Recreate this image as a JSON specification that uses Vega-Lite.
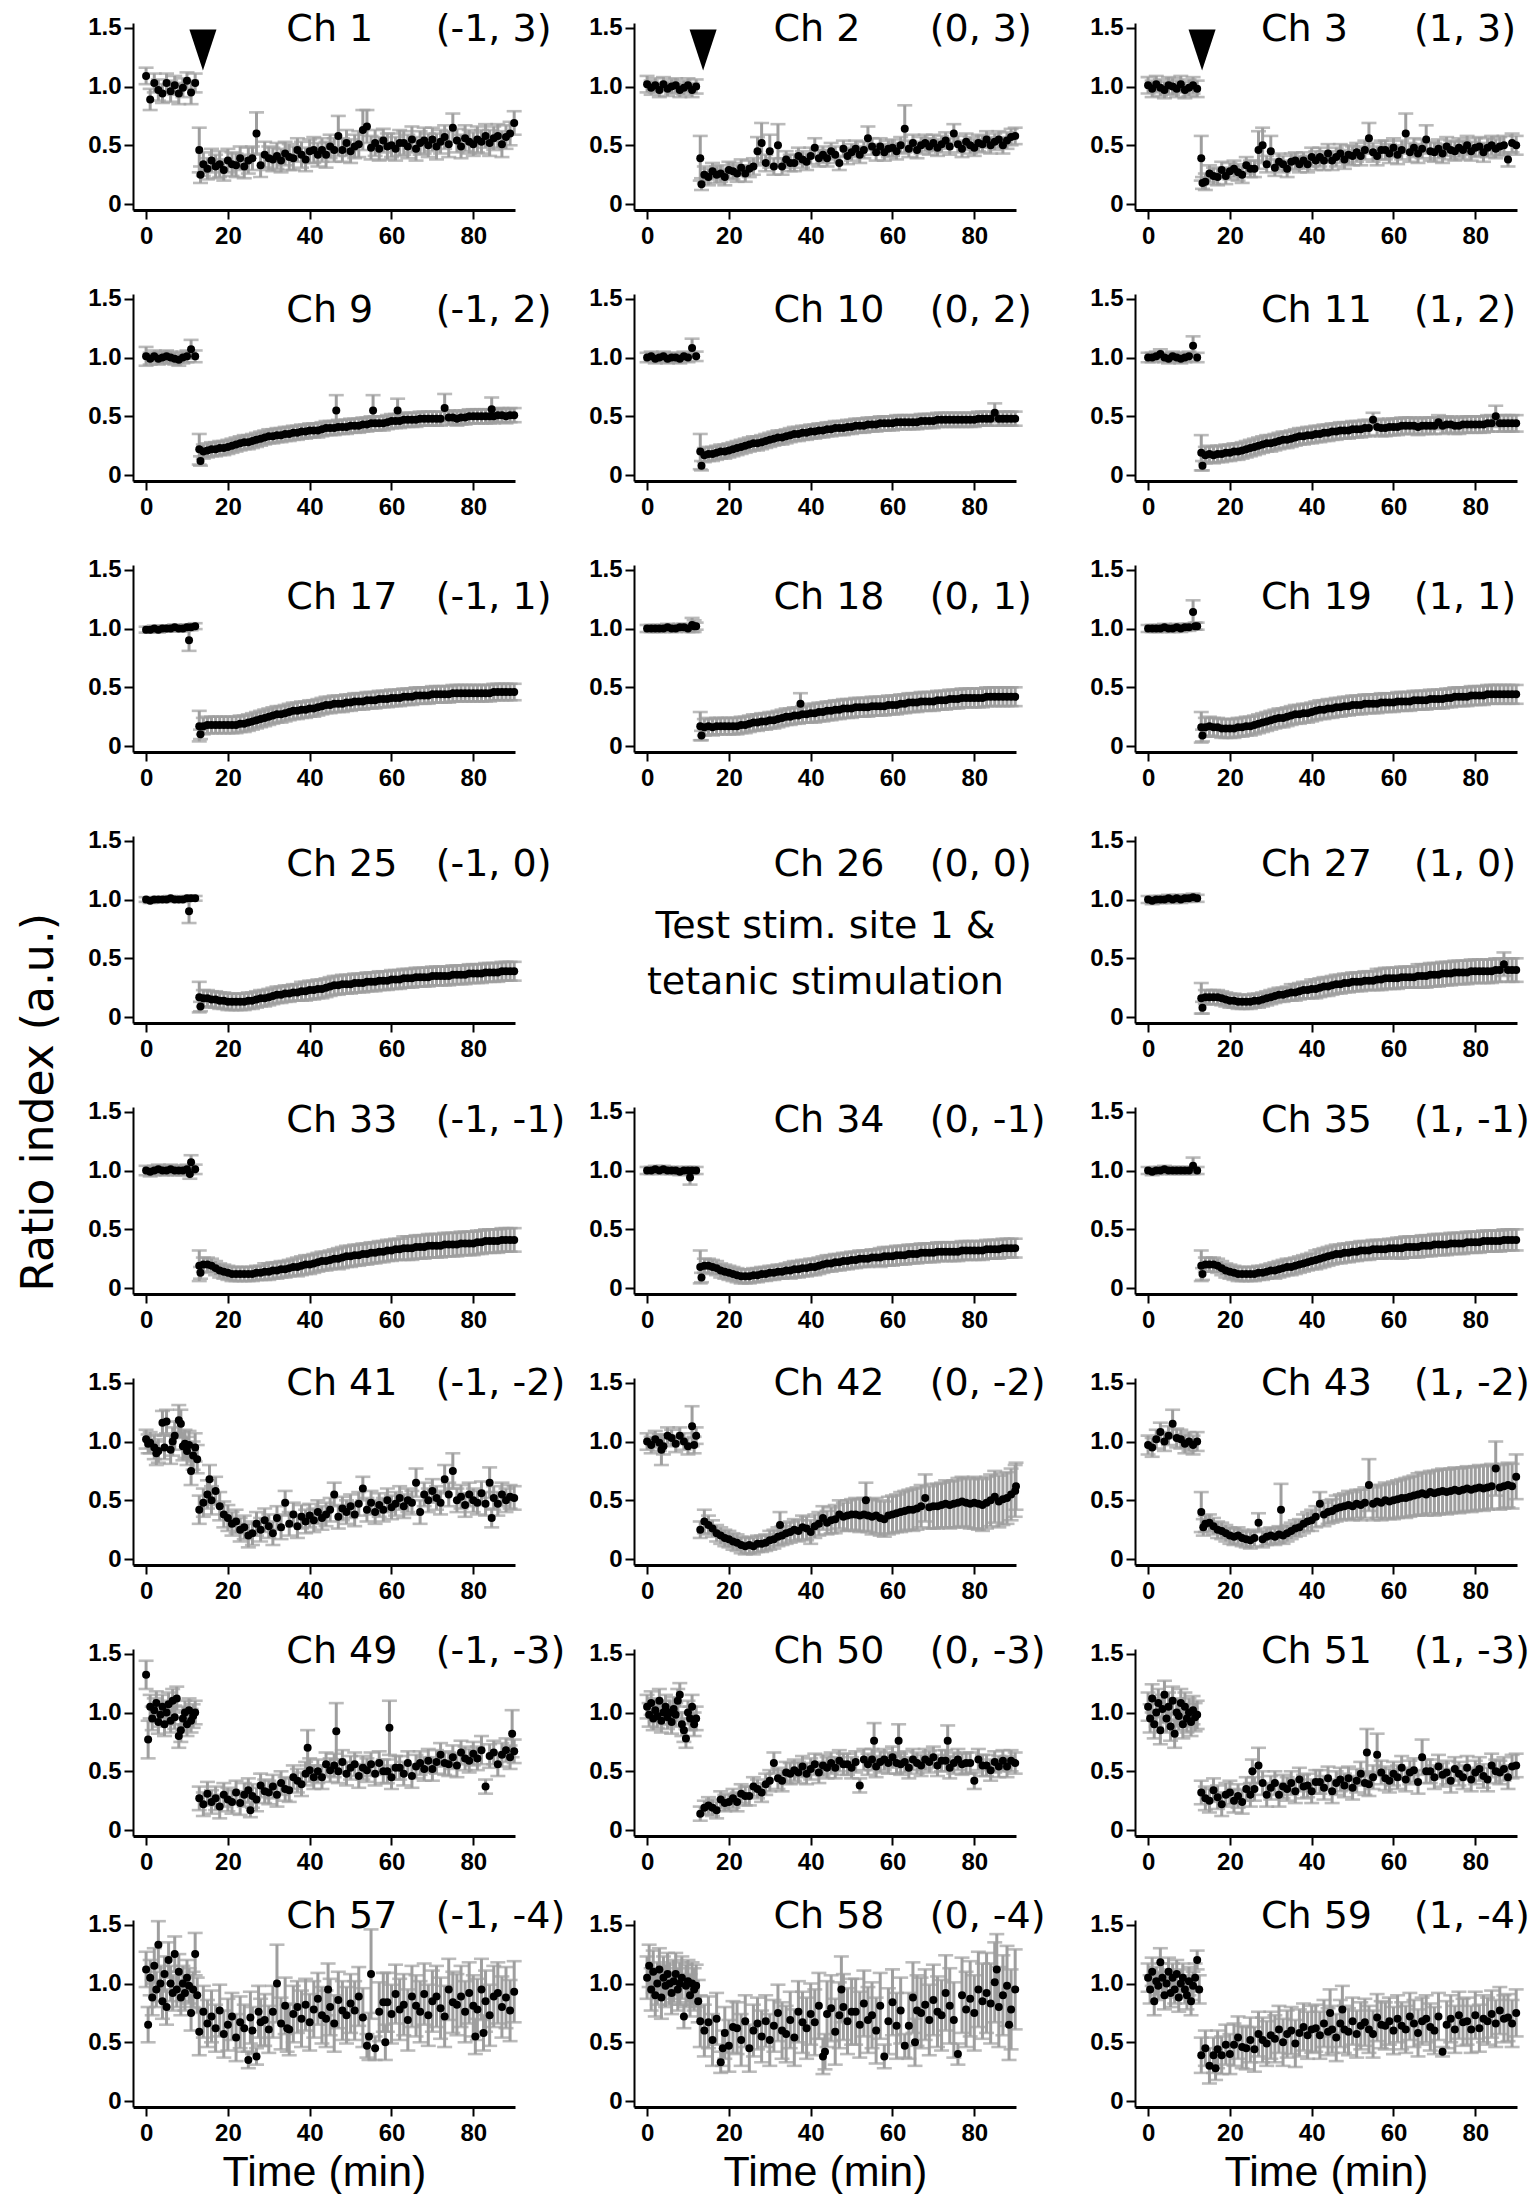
{
  "$schema": "https://vega.github.io/schema/vega-lite/v6.json",
  "padding": {"left": 17, "top": 10, "right": 0, "bottom": 0},
  "title": {"text": "Ratio index (a.u.)", "orient": "left", "anchor": "middle", "font": "DejaVu Sans", "fontSize": 44, "fontWeight": "normal", "color": "#000", "offset": 26},
  "columns": 3,
  "spacing": {"row": 84, "column": 119},
  "bounds": "flush",
  "datasets": {
    "c1": [{"t":0,"v":1.09,"e":0.07},{"t":1,"v":0.89,"e":0.09},{"t":2,"v":1.03,"e":0.08},{"t":3,"v":0.97,"e":0.09},{"t":4,"v":0.94,"e":0.08},{"t":5,"v":1.03,"e":0.08},{"t":6,"v":0.96,"e":0.09},{"t":7,"v":1.01,"e":0.08},{"t":8,"v":0.94,"e":0.09},{"t":9,"v":0.99,"e":0.08},{"t":10,"v":1.05,"e":0.07},{"t":11,"v":0.95,"e":0.1},{"t":12,"v":1.03,"e":0.08},
      {"t":13,"v":0.46,"e":0.19},{"t":13.3,"v":0.25,"e":0.07},{"t":14,"v":0.34,"e":0.1},{"t":15,"v":0.3,"e":0.09},{"t":16,"v":0.37,"e":0.1},{"t":17,"v":0.32,"e":0.1},{"t":18,"v":0.34,"e":0.11},{"t":19,"v":0.29,"e":0.09},{"t":20,"v":0.37,"e":0.1},{"t":21,"v":0.34,"e":0.1},{"t":22,"v":0.33,"e":0.1},{"t":23,"v":0.39,"e":0.1},{"t":24,"v":0.32,"e":0.1},{"t":25,"v":0.37,"e":0.11},{"t":26,"v":0.39,"e":0.1},{"t":27,"v":0.6,"e":0.18},{"t":28,"v":0.33,"e":0.1},{"t":29,"v":0.42,"e":0.11},{"t":30,"v":0.39,"e":0.1},{"t":31,"v":0.38,"e":0.1},{"t":32,"v":0.41,"e":0.11},{"t":33,"v":0.37,"e":0.1},{"t":34,"v":0.43,"e":0.1},{"t":35,"v":0.4,"e":0.11},{"t":36,"v":0.39,"e":0.1},{"t":37,"v":0.46,"e":0.1},{"t":38,"v":0.42,"e":0.11},{"t":39,"v":0.38,"e":0.1},{"t":40,"v":0.45,"e":0.1},{"t":41,"v":0.46,"e":0.11},{"t":42,"v":0.42,"e":0.1},{"t":43,"v":0.46,"e":0.1},{"t":44,"v":0.42,"e":0.11},{"t":45,"v":0.49,"e":0.1},{"t":46,"v":0.46,"e":0.1},{"t":47,"v":0.58,"e":0.17},{"t":48,"v":0.46,"e":0.1},{"t":49,"v":0.52,"e":0.11},{"t":50,"v":0.45,"e":0.1},{"t":51,"v":0.49,"e":0.1},{"t":52,"v":0.51,"e":0.11},{"t":53,"v":0.63,"e":0.17},{"t":54,"v":0.66,"e":0.14},{"t":55,"v":0.48,"e":0.1},{"t":56,"v":0.52,"e":0.11},{"t":57,"v":0.47,"e":0.1},{"t":58,"v":0.54,"e":0.1},{"t":59,"v":0.49,"e":0.11},{"t":60,"v":0.5,"e":0.1},{"t":61,"v":0.47,"e":0.1},{"t":62,"v":0.52,"e":0.11},{"t":63,"v":0.52,"e":0.1},{"t":64,"v":0.49,"e":0.1},{"t":65,"v":0.55,"e":0.11},{"t":66,"v":0.47,"e":0.1},{"t":67,"v":0.52,"e":0.1},{"t":68,"v":0.54,"e":0.11},{"t":69,"v":0.5,"e":0.1},{"t":70,"v":0.55,"e":0.1},{"t":71,"v":0.49,"e":0.11},{"t":72,"v":0.53,"e":0.1},{"t":73,"v":0.57,"e":0.1},{"t":74,"v":0.51,"e":0.11},{"t":75,"v":0.65,"e":0.12},{"t":76,"v":0.54,"e":0.1},{"t":77,"v":0.49,"e":0.1},{"t":78,"v":0.56,"e":0.11},{"t":79,"v":0.53,"e":0.1},{"t":80,"v":0.51,"e":0.1},{"t":81,"v":0.55,"e":0.11},{"t":82,"v":0.53,"e":0.1},{"t":83,"v":0.58,"e":0.1},{"t":84,"v":0.52,"e":0.11},{"t":85,"v":0.56,"e":0.1},{"t":86,"v":0.58,"e":0.1},{"t":87,"v":0.51,"e":0.11},{"t":88,"v":0.57,"e":0.1},{"t":89,"v":0.6,"e":0.1},{"t":90,"v":0.69,"e":0.1}],
    "c2": [{"t":0,"v":1.02,"e":0.07},{"t":1,"v":0.99,"e":0.06},{"t":2,"v":1.01,"e":0.06},{"t":3,"v":0.97,"e":0.06},{"t":4,"v":1.02,"e":0.06},{"t":5,"v":0.98,"e":0.06},{"t":6,"v":1.0,"e":0.06},{"t":7,"v":1.01,"e":0.06},{"t":8,"v":0.97,"e":0.06},{"t":9,"v":0.99,"e":0.06},{"t":10,"v":1.01,"e":0.06},{"t":11,"v":0.97,"e":0.06},{"t":12,"v":1.0,"e":0.06},
      {"t":13,"v":0.39,"e":0.19},{"t":13.3,"v":0.17,"e":0.05},{"t":14,"v":0.25,"e":0.07},{"t":15,"v":0.23,"e":0.07},{"t":16,"v":0.28,"e":0.07},{"t":17,"v":0.25,"e":0.07},{"t":18,"v":0.26,"e":0.07},{"t":19,"v":0.23,"e":0.07},{"t":20,"v":0.29,"e":0.07},{"t":21,"v":0.28,"e":0.07},{"t":22,"v":0.26,"e":0.07},{"t":23,"v":0.31,"e":0.07},{"t":24,"v":0.26,"e":0.07},{"t":25,"v":0.3,"e":0.07},{"t":26,"v":0.32,"e":0.07},{"t":27,"v":0.45,"e":0.12},{"t":28,"v":0.52,"e":0.17},{"t":29,"v":0.35,"e":0.07},{"t":30,"v":0.45,"e":0.14},{"t":31,"v":0.32,"e":0.07},{"t":32,"v":0.5,"e":0.18},{"t":33,"v":0.32,"e":0.07},{"t":34,"v":0.38,"e":0.07},{"t":35,"v":0.35,"e":0.07},{"t":36,"v":0.35,"e":0.07},{"t":37,"v":0.41,"e":0.07},{"t":38,"v":0.38,"e":0.07},{"t":39,"v":0.36,"e":0.07},{"t":40,"v":0.41,"e":0.07},{"t":41,"v":0.48,"e":0.08},{"t":42,"v":0.39,"e":0.07},{"t":43,"v":0.42,"e":0.07},{"t":44,"v":0.39,"e":0.07},{"t":45,"v":0.45,"e":0.07},{"t":46,"v":0.42,"e":0.07},{"t":47,"v":0.35,"e":0.06},{"t":48,"v":0.47,"e":0.07},{"t":49,"v":0.41,"e":0.07},{"t":50,"v":0.44,"e":0.07},{"t":51,"v":0.47,"e":0.07},{"t":52,"v":0.42,"e":0.07},{"t":53,"v":0.46,"e":0.07},{"t":54,"v":0.56,"e":0.1},{"t":55,"v":0.49,"e":0.07},{"t":56,"v":0.44,"e":0.07},{"t":57,"v":0.49,"e":0.07},{"t":58,"v":0.44,"e":0.07},{"t":59,"v":0.47,"e":0.07},{"t":60,"v":0.48,"e":0.07},{"t":61,"v":0.45,"e":0.07},{"t":62,"v":0.5,"e":0.07},{"t":63,"v":0.64,"e":0.2},{"t":64,"v":0.47,"e":0.07},{"t":65,"v":0.52,"e":0.07},{"t":66,"v":0.46,"e":0.07},{"t":67,"v":0.5,"e":0.07},{"t":68,"v":0.52,"e":0.07},{"t":69,"v":0.49,"e":0.07},{"t":70,"v":0.52,"e":0.07},{"t":71,"v":0.48,"e":0.07},{"t":72,"v":0.51,"e":0.07},{"t":73,"v":0.54,"e":0.07},{"t":74,"v":0.49,"e":0.07},{"t":75,"v":0.6,"e":0.08},{"t":76,"v":0.51,"e":0.07},{"t":77,"v":0.47,"e":0.07},{"t":78,"v":0.53,"e":0.07},{"t":79,"v":0.5,"e":0.07},{"t":80,"v":0.48,"e":0.07},{"t":81,"v":0.52,"e":0.07},{"t":82,"v":0.51,"e":0.07},{"t":83,"v":0.55,"e":0.07},{"t":84,"v":0.5,"e":0.07},{"t":85,"v":0.53,"e":0.07},{"t":86,"v":0.55,"e":0.07},{"t":87,"v":0.5,"e":0.07},{"t":88,"v":0.54,"e":0.07},{"t":89,"v":0.57,"e":0.07},{"t":90,"v":0.58,"e":0.07}],
    "c3": [{"t":0,"v":1.01,"e":0.07},{"t":1,"v":0.98,"e":0.07},{"t":2,"v":1.02,"e":0.07},{"t":3,"v":0.99,"e":0.07},{"t":4,"v":0.97,"e":0.07},{"t":5,"v":1.01,"e":0.07},{"t":6,"v":1.0,"e":0.07},{"t":7,"v":0.98,"e":0.07},{"t":8,"v":1.02,"e":0.07},{"t":9,"v":0.97,"e":0.07},{"t":10,"v":0.99,"e":0.07},{"t":11,"v":1.01,"e":0.07},{"t":12,"v":0.98,"e":0.07},
      {"t":13,"v":0.39,"e":0.19},{"t":13.3,"v":0.18,"e":0.05},{"t":14,"v":0.19,"e":0.07},{"t":15,"v":0.26,"e":0.07},{"t":16,"v":0.24,"e":0.07},{"t":17,"v":0.23,"e":0.07},{"t":18,"v":0.29,"e":0.07},{"t":19,"v":0.24,"e":0.07},{"t":20,"v":0.28,"e":0.07},{"t":21,"v":0.3,"e":0.07},{"t":22,"v":0.27,"e":0.07},{"t":23,"v":0.25,"e":0.07},{"t":24,"v":0.33,"e":0.07},{"t":25,"v":0.3,"e":0.07},{"t":26,"v":0.3,"e":0.07},{"t":27,"v":0.46,"e":0.16},{"t":28,"v":0.5,"e":0.15},{"t":29,"v":0.34,"e":0.07},{"t":30,"v":0.45,"e":0.13},{"t":31,"v":0.31,"e":0.07},{"t":32,"v":0.36,"e":0.07},{"t":33,"v":0.34,"e":0.07},{"t":34,"v":0.3,"e":0.07},{"t":35,"v":0.36,"e":0.07},{"t":36,"v":0.37,"e":0.07},{"t":37,"v":0.34,"e":0.07},{"t":38,"v":0.37,"e":0.07},{"t":39,"v":0.34,"e":0.07},{"t":40,"v":0.4,"e":0.08},{"t":41,"v":0.37,"e":0.08},{"t":42,"v":0.4,"e":0.08},{"t":43,"v":0.37,"e":0.08},{"t":44,"v":0.43,"e":0.08},{"t":45,"v":0.37,"e":0.08},{"t":46,"v":0.4,"e":0.08},{"t":47,"v":0.43,"e":0.08},{"t":48,"v":0.38,"e":0.08},{"t":49,"v":0.42,"e":0.08},{"t":50,"v":0.41,"e":0.08},{"t":51,"v":0.44,"e":0.08},{"t":52,"v":0.41,"e":0.08},{"t":53,"v":0.46,"e":0.08},{"t":54,"v":0.56,"e":0.13},{"t":55,"v":0.44,"e":0.08},{"t":56,"v":0.41,"e":0.08},{"t":57,"v":0.46,"e":0.08},{"t":58,"v":0.46,"e":0.08},{"t":59,"v":0.43,"e":0.08},{"t":60,"v":0.48,"e":0.08},{"t":61,"v":0.42,"e":0.08},{"t":62,"v":0.46,"e":0.08},{"t":63,"v":0.6,"e":0.17},{"t":64,"v":0.44,"e":0.08},{"t":65,"v":0.48,"e":0.08},{"t":66,"v":0.43,"e":0.08},{"t":67,"v":0.47,"e":0.08},{"t":68,"v":0.55,"e":0.12},{"t":69,"v":0.45,"e":0.08},{"t":70,"v":0.44,"e":0.08},{"t":71,"v":0.47,"e":0.08},{"t":72,"v":0.43,"e":0.08},{"t":73,"v":0.49,"e":0.08},{"t":74,"v":0.46,"e":0.08},{"t":75,"v":0.45,"e":0.08},{"t":76,"v":0.48,"e":0.08},{"t":77,"v":0.46,"e":0.08},{"t":78,"v":0.5,"e":0.08},{"t":79,"v":0.45,"e":0.08},{"t":80,"v":0.48,"e":0.08},{"t":81,"v":0.49,"e":0.08},{"t":82,"v":0.44,"e":0.08},{"t":83,"v":0.48,"e":0.08},{"t":84,"v":0.5,"e":0.08},{"t":85,"v":0.47,"e":0.08},{"t":86,"v":0.49,"e":0.08},{"t":87,"v":0.5,"e":0.08},{"t":88,"v":0.38,"e":0.06},{"t":89,"v":0.52,"e":0.08},{"t":90,"v":0.5,"e":0.08}],
    "c9": [{"t":0,"v":1.01,"e":0.08},{"t":1,"v":0.99,"e":0.05},{"t":2,"v":1.01,"e":0.05},{"t":3,"v":0.99,"e":0.05},{"t":4,"v":1.0,"e":0.05},{"t":5,"v":1.01,"e":0.05},{"t":6,"v":1.0,"e":0.05},{"t":7,"v":0.99,"e":0.05},{"t":8,"v":0.98,"e":0.05},{"t":9,"v":1.0,"e":0.05},{"t":10,"v":1.01,"e":0.05},{"t":11,"v":1.07,"e":0.08},{"t":12,"v":1.01,"e":0.05},
      {"t":13,"v":0.22,"e":0.13},{"t":13.3,"v":0.12,"e":0.04},{"t":14,"v":0.2,"e":0.06},{"t":15,"v":0.21,"e":0.06},{"t":16,"v":0.22,"e":0.06},{"t":17,"v":0.22,"e":0.06},{"t":18,"v":0.23,"e":0.06},{"t":19,"v":0.23,"e":0.06},{"t":20,"v":0.24,"e":0.06},{"t":21,"v":0.25,"e":0.06},{"t":22,"v":0.26,"e":0.06},{"t":23,"v":0.27,"e":0.06},{"t":24,"v":0.28,"e":0.06},{"t":25,"v":0.28,"e":0.06},{"t":26,"v":0.29,"e":0.06},{"t":27,"v":0.3,"e":0.06},{"t":28,"v":0.31,"e":0.06},{"t":29,"v":0.32,"e":0.06},{"t":30,"v":0.33,"e":0.06},{"t":31,"v":0.33,"e":0.06},{"t":32,"v":0.34,"e":0.06},{"t":33,"v":0.34,"e":0.06},{"t":34,"v":0.35,"e":0.06},{"t":35,"v":0.35,"e":0.06},{"t":36,"v":0.36,"e":0.06},{"t":37,"v":0.36,"e":0.06},{"t":38,"v":0.37,"e":0.06},{"t":39,"v":0.37,"e":0.06},{"t":40,"v":0.38,"e":0.06},{"t":41,"v":0.38,"e":0.06},{"t":42,"v":0.38,"e":0.06},{"t":43,"v":0.39,"e":0.06},{"t":44,"v":0.4,"e":0.06},{"t":45,"v":0.4,"e":0.06},{"t":46,"v":0.4,"e":0.06},{"t":46.5,"v":0.55,"e":0.13},{"t":47,"v":0.41,"e":0.06},{"t":48,"v":0.41,"e":0.06},{"t":49,"v":0.41,"e":0.06},{"t":50,"v":0.42,"e":0.06},{"t":51,"v":0.42,"e":0.06},{"t":52,"v":0.42,"e":0.06},{"t":53,"v":0.43,"e":0.06},{"t":54,"v":0.43,"e":0.06},{"t":55,"v":0.44,"e":0.06},{"t":55.5,"v":0.55,"e":0.13},{"t":56,"v":0.44,"e":0.06},{"t":57,"v":0.44,"e":0.06},{"t":58,"v":0.44,"e":0.06},{"t":59,"v":0.45,"e":0.06},{"t":60,"v":0.46,"e":0.06},{"t":61,"v":0.46,"e":0.06},{"t":61.5,"v":0.55,"e":0.1},{"t":62,"v":0.46,"e":0.06},{"t":63,"v":0.47,"e":0.06},{"t":64,"v":0.47,"e":0.06},{"t":65,"v":0.47,"e":0.06},{"t":66,"v":0.47,"e":0.06},{"t":67,"v":0.48,"e":0.06},{"t":68,"v":0.48,"e":0.06},{"t":69,"v":0.48,"e":0.06},{"t":70,"v":0.48,"e":0.06},{"t":71,"v":0.48,"e":0.06},{"t":72,"v":0.48,"e":0.06},{"t":73,"v":0.57,"e":0.12},{"t":74,"v":0.49,"e":0.06},{"t":75,"v":0.49,"e":0.06},{"t":76,"v":0.48,"e":0.06},{"t":77,"v":0.49,"e":0.06},{"t":78,"v":0.49,"e":0.06},{"t":79,"v":0.5,"e":0.06},{"t":80,"v":0.5,"e":0.06},{"t":81,"v":0.5,"e":0.06},{"t":82,"v":0.5,"e":0.06},{"t":83,"v":0.5,"e":0.06},{"t":84,"v":0.5,"e":0.06},{"t":84.5,"v":0.56,"e":0.1},{"t":85,"v":0.5,"e":0.06},{"t":86,"v":0.51,"e":0.06},{"t":87,"v":0.51,"e":0.06},{"t":88,"v":0.5,"e":0.06},{"t":89,"v":0.51,"e":0.06},{"t":90,"v":0.51,"e":0.06}],
    "c10": [{"t":0,"v":1.0,"e":0.04},{"t":1,"v":1.01,"e":0.04},{"t":2,"v":0.99,"e":0.04},{"t":3,"v":1.0,"e":0.04},{"t":4,"v":1.01,"e":0.04},{"t":5,"v":0.99,"e":0.04},{"t":6,"v":1.0,"e":0.04},{"t":7,"v":1.0,"e":0.04},{"t":8,"v":0.99,"e":0.04},{"t":9,"v":1.01,"e":0.04},{"t":10,"v":1.0,"e":0.04},{"t":11,"v":1.08,"e":0.08},{"t":12,"v":1.01,"e":0.04},
      {"t":13,"v":0.2,"e":0.15},{"t":13.3,"v":0.08,"e":0.04},{"t":14,"v":0.17,"e":0.06},{"t":15,"v":0.18,"e":0.06},{"t":16,"v":0.18,"e":0.06},{"t":17,"v":0.19,"e":0.06},{"t":18,"v":0.2,"e":0.06},{"t":19,"v":0.2,"e":0.06},{"t":20,"v":0.21,"e":0.06},{"t":21,"v":0.22,"e":0.06},{"t":22,"v":0.23,"e":0.06},{"t":23,"v":0.24,"e":0.06},{"t":24,"v":0.25,"e":0.06},{"t":25,"v":0.26,"e":0.06},{"t":26,"v":0.27,"e":0.06},{"t":27,"v":0.27,"e":0.06},{"t":28,"v":0.28,"e":0.06},{"t":29,"v":0.29,"e":0.06},{"t":30,"v":0.3,"e":0.06},{"t":31,"v":0.31,"e":0.06},{"t":32,"v":0.32,"e":0.06},{"t":33,"v":0.32,"e":0.06},{"t":34,"v":0.33,"e":0.06},{"t":35,"v":0.34,"e":0.06},{"t":36,"v":0.35,"e":0.06},{"t":37,"v":0.35,"e":0.06},{"t":38,"v":0.36,"e":0.06},{"t":39,"v":0.36,"e":0.06},{"t":40,"v":0.37,"e":0.06},{"t":41,"v":0.37,"e":0.06},{"t":42,"v":0.38,"e":0.06},{"t":43,"v":0.38,"e":0.06},{"t":44,"v":0.39,"e":0.06},{"t":45,"v":0.39,"e":0.06},{"t":46,"v":0.4,"e":0.06},{"t":47,"v":0.4,"e":0.06},{"t":48,"v":0.4,"e":0.06},{"t":49,"v":0.41,"e":0.06},{"t":50,"v":0.41,"e":0.06},{"t":51,"v":0.42,"e":0.06},{"t":52,"v":0.42,"e":0.06},{"t":53,"v":0.42,"e":0.06},{"t":54,"v":0.43,"e":0.06},{"t":55,"v":0.43,"e":0.06},{"t":56,"v":0.43,"e":0.06},{"t":57,"v":0.44,"e":0.06},{"t":58,"v":0.44,"e":0.06},{"t":59,"v":0.44,"e":0.06},{"t":60,"v":0.44,"e":0.06},{"t":61,"v":0.45,"e":0.06},{"t":62,"v":0.45,"e":0.06},{"t":63,"v":0.45,"e":0.06},{"t":64,"v":0.45,"e":0.06},{"t":65,"v":0.45,"e":0.06},{"t":66,"v":0.45,"e":0.06},{"t":67,"v":0.46,"e":0.06},{"t":68,"v":0.46,"e":0.06},{"t":69,"v":0.46,"e":0.06},{"t":70,"v":0.46,"e":0.06},{"t":71,"v":0.47,"e":0.06},{"t":72,"v":0.47,"e":0.06},{"t":73,"v":0.47,"e":0.06},{"t":74,"v":0.47,"e":0.06},{"t":75,"v":0.47,"e":0.06},{"t":76,"v":0.47,"e":0.06},{"t":77,"v":0.47,"e":0.06},{"t":78,"v":0.47,"e":0.06},{"t":79,"v":0.47,"e":0.06},{"t":80,"v":0.47,"e":0.06},{"t":81,"v":0.48,"e":0.06},{"t":82,"v":0.48,"e":0.06},{"t":83,"v":0.48,"e":0.06},{"t":84,"v":0.48,"e":0.06},{"t":85,"v":0.53,"e":0.08},{"t":86,"v":0.48,"e":0.06},{"t":87,"v":0.48,"e":0.06},{"t":88,"v":0.48,"e":0.06},{"t":89,"v":0.48,"e":0.06},{"t":90,"v":0.48,"e":0.06}],
    "c11": [{"t":0,"v":1.0,"e":0.04},{"t":1,"v":1.0,"e":0.04},{"t":2,"v":1.01,"e":0.04},{"t":3,"v":1.03,"e":0.04},{"t":4,"v":1.0,"e":0.04},{"t":5,"v":0.99,"e":0.04},{"t":6,"v":1.01,"e":0.04},{"t":7,"v":1.0,"e":0.04},{"t":8,"v":0.99,"e":0.04},{"t":9,"v":1.0,"e":0.04},{"t":10,"v":1.01,"e":0.04},{"t":11,"v":1.1,"e":0.08},{"t":12,"v":1.0,"e":0.04},
      {"t":13,"v":0.19,"e":0.15},{"t":13.3,"v":0.08,"e":0.04},{"t":14,"v":0.17,"e":0.07},{"t":15,"v":0.18,"e":0.07},{"t":16,"v":0.17,"e":0.07},{"t":17,"v":0.18,"e":0.07},{"t":18,"v":0.18,"e":0.07},{"t":19,"v":0.19,"e":0.07},{"t":20,"v":0.19,"e":0.07},{"t":21,"v":0.2,"e":0.07},{"t":22,"v":0.2,"e":0.07},{"t":23,"v":0.21,"e":0.07},{"t":24,"v":0.22,"e":0.07},{"t":25,"v":0.23,"e":0.07},{"t":26,"v":0.24,"e":0.07},{"t":27,"v":0.25,"e":0.07},{"t":28,"v":0.26,"e":0.07},{"t":29,"v":0.27,"e":0.07},{"t":30,"v":0.27,"e":0.07},{"t":31,"v":0.28,"e":0.07},{"t":32,"v":0.29,"e":0.07},{"t":33,"v":0.3,"e":0.07},{"t":34,"v":0.3,"e":0.07},{"t":35,"v":0.31,"e":0.07},{"t":36,"v":0.32,"e":0.07},{"t":37,"v":0.33,"e":0.07},{"t":38,"v":0.33,"e":0.07},{"t":39,"v":0.34,"e":0.07},{"t":40,"v":0.34,"e":0.07},{"t":41,"v":0.35,"e":0.07},{"t":42,"v":0.35,"e":0.07},{"t":43,"v":0.36,"e":0.07},{"t":44,"v":0.36,"e":0.07},{"t":45,"v":0.37,"e":0.07},{"t":46,"v":0.37,"e":0.07},{"t":47,"v":0.38,"e":0.07},{"t":48,"v":0.38,"e":0.07},{"t":49,"v":0.38,"e":0.07},{"t":50,"v":0.39,"e":0.07},{"t":51,"v":0.39,"e":0.07},{"t":52,"v":0.39,"e":0.07},{"t":53,"v":0.4,"e":0.07},{"t":54,"v":0.4,"e":0.07},{"t":55,"v":0.47,"e":0.06},{"t":56,"v":0.41,"e":0.07},{"t":57,"v":0.4,"e":0.07},{"t":58,"v":0.4,"e":0.07},{"t":59,"v":0.41,"e":0.07},{"t":60,"v":0.41,"e":0.07},{"t":61,"v":0.41,"e":0.07},{"t":62,"v":0.42,"e":0.07},{"t":63,"v":0.42,"e":0.07},{"t":64,"v":0.42,"e":0.07},{"t":65,"v":0.42,"e":0.07},{"t":66,"v":0.41,"e":0.07},{"t":67,"v":0.42,"e":0.07},{"t":68,"v":0.42,"e":0.07},{"t":69,"v":0.42,"e":0.07},{"t":70,"v":0.42,"e":0.07},{"t":71,"v":0.45,"e":0.06},{"t":72,"v":0.42,"e":0.07},{"t":73,"v":0.43,"e":0.07},{"t":74,"v":0.43,"e":0.07},{"t":75,"v":0.42,"e":0.07},{"t":76,"v":0.42,"e":0.07},{"t":77,"v":0.43,"e":0.07},{"t":78,"v":0.43,"e":0.07},{"t":79,"v":0.43,"e":0.07},{"t":80,"v":0.43,"e":0.07},{"t":81,"v":0.43,"e":0.07},{"t":82,"v":0.43,"e":0.07},{"t":83,"v":0.44,"e":0.07},{"t":84,"v":0.44,"e":0.07},{"t":85,"v":0.5,"e":0.09},{"t":86,"v":0.44,"e":0.07},{"t":87,"v":0.44,"e":0.07},{"t":88,"v":0.44,"e":0.07},{"t":89,"v":0.44,"e":0.07},{"t":90,"v":0.44,"e":0.07}],
    "c17": [{"t":0,"v":0.99,"e":0.025},{"t":1,"v":0.99,"e":0.025},{"t":2,"v":1.0,"e":0.025},{"t":3,"v":0.99,"e":0.025},{"t":4,"v":1.0,"e":0.025},{"t":5,"v":1.0,"e":0.025},{"t":6,"v":1.0,"e":0.025},{"t":7,"v":1.01,"e":0.025},{"t":8,"v":1.0,"e":0.025},{"t":9,"v":1.0,"e":0.025},{"t":10,"v":1.01,"e":0.025},{"t":10.5,"v":0.9,"e":0.09},{"t":11,"v":1.01,"e":0.025},{"t":12,"v":1.02,"e":0.025},
      {"t":13,"v":0.17,"e":0.13},{"t":13.3,"v":0.1,"e":0.04},{"t":14,"v":0.17,"e":0.07},{"t":15,"v":0.18,"e":0.07},{"t":16,"v":0.18,"e":0.07},{"t":17,"v":0.18,"e":0.07},{"t":18,"v":0.18,"e":0.07},{"t":19,"v":0.18,"e":0.07},{"t":20,"v":0.18,"e":0.07},{"t":21,"v":0.18,"e":0.07},{"t":22,"v":0.18,"e":0.07},{"t":23,"v":0.19,"e":0.07},{"t":24,"v":0.19,"e":0.07},{"t":25,"v":0.2,"e":0.07},{"t":26,"v":0.21,"e":0.07},{"t":27,"v":0.22,"e":0.07},{"t":28,"v":0.23,"e":0.07},{"t":29,"v":0.24,"e":0.07},{"t":30,"v":0.25,"e":0.07},{"t":31,"v":0.26,"e":0.07},{"t":32,"v":0.27,"e":0.07},{"t":33,"v":0.27,"e":0.07},{"t":34,"v":0.28,"e":0.07},{"t":35,"v":0.29,"e":0.07},{"t":36,"v":0.3,"e":0.07},{"t":37,"v":0.3,"e":0.07},{"t":38,"v":0.31,"e":0.07},{"t":39,"v":0.31,"e":0.07},{"t":40,"v":0.32,"e":0.07},{"t":41,"v":0.32,"e":0.07},{"t":42,"v":0.33,"e":0.07},{"t":43,"v":0.34,"e":0.07},{"t":44,"v":0.35,"e":0.07},{"t":45,"v":0.35,"e":0.07},{"t":46,"v":0.36,"e":0.07},{"t":47,"v":0.36,"e":0.07},{"t":48,"v":0.36,"e":0.07},{"t":49,"v":0.37,"e":0.07},{"t":50,"v":0.37,"e":0.07},{"t":51,"v":0.38,"e":0.07},{"t":52,"v":0.38,"e":0.07},{"t":53,"v":0.38,"e":0.07},{"t":54,"v":0.39,"e":0.07},{"t":55,"v":0.39,"e":0.07},{"t":56,"v":0.39,"e":0.07},{"t":57,"v":0.4,"e":0.07},{"t":58,"v":0.4,"e":0.07},{"t":59,"v":0.4,"e":0.07},{"t":60,"v":0.41,"e":0.07},{"t":61,"v":0.41,"e":0.07},{"t":62,"v":0.41,"e":0.07},{"t":63,"v":0.42,"e":0.07},{"t":64,"v":0.42,"e":0.07},{"t":65,"v":0.42,"e":0.07},{"t":66,"v":0.43,"e":0.07},{"t":67,"v":0.43,"e":0.07},{"t":68,"v":0.43,"e":0.07},{"t":69,"v":0.43,"e":0.07},{"t":70,"v":0.44,"e":0.07},{"t":71,"v":0.44,"e":0.07},{"t":72,"v":0.44,"e":0.07},{"t":73,"v":0.44,"e":0.07},{"t":74,"v":0.44,"e":0.07},{"t":75,"v":0.45,"e":0.07},{"t":76,"v":0.45,"e":0.07},{"t":77,"v":0.45,"e":0.07},{"t":78,"v":0.45,"e":0.07},{"t":79,"v":0.45,"e":0.07},{"t":80,"v":0.45,"e":0.07},{"t":81,"v":0.45,"e":0.07},{"t":82,"v":0.45,"e":0.07},{"t":83,"v":0.45,"e":0.07},{"t":84,"v":0.45,"e":0.07},{"t":85,"v":0.46,"e":0.07},{"t":86,"v":0.46,"e":0.07},{"t":87,"v":0.46,"e":0.07},{"t":88,"v":0.46,"e":0.07},{"t":89,"v":0.46,"e":0.07},{"t":90,"v":0.46,"e":0.07}],
    "c18": [{"t":0,"v":1.0,"e":0.03},{"t":1,"v":1.0,"e":0.03},{"t":2,"v":1.0,"e":0.03},{"t":3,"v":1.0,"e":0.03},{"t":4,"v":1.0,"e":0.03},{"t":5,"v":1.01,"e":0.03},{"t":6,"v":1.0,"e":0.03},{"t":7,"v":1.0,"e":0.03},{"t":8,"v":1.01,"e":0.03},{"t":9,"v":1.01,"e":0.03},{"t":10,"v":1.0,"e":0.03},{"t":11,"v":1.03,"e":0.06},{"t":11.5,"v":1.02,"e":0.05},{"t":12,"v":1.02,"e":0.03},
      {"t":13,"v":0.17,"e":0.12},{"t":13.3,"v":0.09,"e":0.04},{"t":14,"v":0.16,"e":0.07},{"t":15,"v":0.17,"e":0.07},{"t":16,"v":0.16,"e":0.07},{"t":17,"v":0.17,"e":0.07},{"t":18,"v":0.17,"e":0.07},{"t":19,"v":0.17,"e":0.07},{"t":20,"v":0.17,"e":0.07},{"t":21,"v":0.17,"e":0.07},{"t":22,"v":0.17,"e":0.07},{"t":23,"v":0.18,"e":0.07},{"t":24,"v":0.18,"e":0.07},{"t":25,"v":0.19,"e":0.07},{"t":26,"v":0.2,"e":0.07},{"t":27,"v":0.2,"e":0.07},{"t":28,"v":0.21,"e":0.07},{"t":29,"v":0.21,"e":0.07},{"t":30,"v":0.22,"e":0.07},{"t":31,"v":0.22,"e":0.07},{"t":32,"v":0.23,"e":0.07},{"t":33,"v":0.24,"e":0.07},{"t":34,"v":0.25,"e":0.07},{"t":35,"v":0.25,"e":0.07},{"t":36,"v":0.26,"e":0.07},{"t":37,"v":0.26,"e":0.07},{"t":37.5,"v":0.36,"e":0.09},{"t":38,"v":0.27,"e":0.07},{"t":39,"v":0.27,"e":0.07},{"t":40,"v":0.28,"e":0.08},{"t":41,"v":0.28,"e":0.08},{"t":42,"v":0.29,"e":0.08},{"t":43,"v":0.29,"e":0.08},{"t":44,"v":0.3,"e":0.08},{"t":45,"v":0.3,"e":0.08},{"t":46,"v":0.31,"e":0.08},{"t":47,"v":0.31,"e":0.08},{"t":48,"v":0.32,"e":0.08},{"t":49,"v":0.32,"e":0.08},{"t":50,"v":0.32,"e":0.08},{"t":51,"v":0.33,"e":0.08},{"t":52,"v":0.33,"e":0.08},{"t":53,"v":0.33,"e":0.08},{"t":54,"v":0.33,"e":0.08},{"t":55,"v":0.34,"e":0.08},{"t":56,"v":0.34,"e":0.08},{"t":57,"v":0.34,"e":0.08},{"t":58,"v":0.34,"e":0.08},{"t":59,"v":0.35,"e":0.08},{"t":60,"v":0.35,"e":0.08},{"t":61,"v":0.35,"e":0.08},{"t":62,"v":0.36,"e":0.08},{"t":63,"v":0.36,"e":0.08},{"t":64,"v":0.37,"e":0.08},{"t":65,"v":0.37,"e":0.08},{"t":66,"v":0.37,"e":0.08},{"t":67,"v":0.38,"e":0.08},{"t":68,"v":0.38,"e":0.08},{"t":69,"v":0.38,"e":0.08},{"t":70,"v":0.38,"e":0.08},{"t":71,"v":0.39,"e":0.08},{"t":72,"v":0.39,"e":0.08},{"t":73,"v":0.39,"e":0.08},{"t":74,"v":0.4,"e":0.08},{"t":75,"v":0.4,"e":0.08},{"t":76,"v":0.4,"e":0.08},{"t":77,"v":0.41,"e":0.08},{"t":78,"v":0.41,"e":0.08},{"t":79,"v":0.41,"e":0.08},{"t":80,"v":0.41,"e":0.08},{"t":81,"v":0.41,"e":0.08},{"t":82,"v":0.41,"e":0.08},{"t":83,"v":0.42,"e":0.08},{"t":84,"v":0.42,"e":0.08},{"t":85,"v":0.42,"e":0.08},{"t":86,"v":0.42,"e":0.08},{"t":87,"v":0.42,"e":0.08},{"t":88,"v":0.42,"e":0.08},{"t":89,"v":0.42,"e":0.08},{"t":90,"v":0.42,"e":0.08}],
    "c19": [{"t":0,"v":1.0,"e":0.03},{"t":1,"v":1.0,"e":0.03},{"t":2,"v":1.0,"e":0.03},{"t":3,"v":1.0,"e":0.03},{"t":4,"v":1.01,"e":0.03},{"t":5,"v":1.0,"e":0.03},{"t":6,"v":1.0,"e":0.03},{"t":7,"v":1.01,"e":0.03},{"t":8,"v":1.0,"e":0.03},{"t":9,"v":1.01,"e":0.03},{"t":10,"v":1.01,"e":0.03},{"t":11,"v":1.14,"e":0.1},{"t":11.5,"v":1.02,"e":0.03},{"t":12,"v":1.02,"e":0.03},
      {"t":13,"v":0.16,"e":0.13},{"t":13.3,"v":0.09,"e":0.05},{"t":14,"v":0.16,"e":0.08},{"t":15,"v":0.17,"e":0.08},{"t":16,"v":0.16,"e":0.08},{"t":17,"v":0.16,"e":0.08},{"t":18,"v":0.15,"e":0.08},{"t":19,"v":0.15,"e":0.08},{"t":20,"v":0.15,"e":0.08},{"t":21,"v":0.15,"e":0.08},{"t":22,"v":0.16,"e":0.08},{"t":23,"v":0.16,"e":0.08},{"t":24,"v":0.17,"e":0.08},{"t":25,"v":0.17,"e":0.08},{"t":26,"v":0.18,"e":0.08},{"t":27,"v":0.19,"e":0.08},{"t":28,"v":0.2,"e":0.08},{"t":29,"v":0.21,"e":0.08},{"t":30,"v":0.22,"e":0.08},{"t":31,"v":0.23,"e":0.08},{"t":32,"v":0.24,"e":0.08},{"t":33,"v":0.24,"e":0.08},{"t":34,"v":0.25,"e":0.08},{"t":35,"v":0.26,"e":0.08},{"t":36,"v":0.27,"e":0.08},{"t":37,"v":0.27,"e":0.08},{"t":38,"v":0.28,"e":0.08},{"t":39,"v":0.28,"e":0.08},{"t":40,"v":0.29,"e":0.08},{"t":41,"v":0.3,"e":0.08},{"t":42,"v":0.31,"e":0.08},{"t":43,"v":0.31,"e":0.08},{"t":44,"v":0.32,"e":0.08},{"t":45,"v":0.32,"e":0.08},{"t":46,"v":0.33,"e":0.08},{"t":47,"v":0.33,"e":0.08},{"t":48,"v":0.34,"e":0.08},{"t":49,"v":0.34,"e":0.08},{"t":50,"v":0.35,"e":0.08},{"t":51,"v":0.35,"e":0.08},{"t":52,"v":0.35,"e":0.08},{"t":53,"v":0.36,"e":0.08},{"t":54,"v":0.36,"e":0.08},{"t":55,"v":0.36,"e":0.08},{"t":56,"v":0.36,"e":0.08},{"t":57,"v":0.37,"e":0.08},{"t":58,"v":0.37,"e":0.08},{"t":59,"v":0.37,"e":0.08},{"t":60,"v":0.37,"e":0.08},{"t":61,"v":0.38,"e":0.08},{"t":62,"v":0.38,"e":0.08},{"t":63,"v":0.38,"e":0.08},{"t":64,"v":0.38,"e":0.08},{"t":65,"v":0.39,"e":0.08},{"t":66,"v":0.39,"e":0.08},{"t":67,"v":0.39,"e":0.08},{"t":68,"v":0.39,"e":0.08},{"t":69,"v":0.4,"e":0.08},{"t":70,"v":0.4,"e":0.08},{"t":71,"v":0.4,"e":0.08},{"t":72,"v":0.4,"e":0.08},{"t":73,"v":0.41,"e":0.08},{"t":74,"v":0.41,"e":0.08},{"t":75,"v":0.42,"e":0.08},{"t":76,"v":0.42,"e":0.08},{"t":77,"v":0.42,"e":0.08},{"t":78,"v":0.42,"e":0.08},{"t":79,"v":0.43,"e":0.08},{"t":80,"v":0.43,"e":0.08},{"t":81,"v":0.43,"e":0.08},{"t":82,"v":0.43,"e":0.08},{"t":83,"v":0.44,"e":0.08},{"t":84,"v":0.44,"e":0.08},{"t":85,"v":0.44,"e":0.08},{"t":86,"v":0.44,"e":0.08},{"t":87,"v":0.44,"e":0.08},{"t":88,"v":0.44,"e":0.08},{"t":89,"v":0.44,"e":0.08},{"t":90,"v":0.44,"e":0.08}],
    "c25": [{"t":0,"v":1.0,"e":0.02},{"t":1,"v":0.99,"e":0.02},{"t":2,"v":1.0,"e":0.02},{"t":3,"v":1.0,"e":0.02},{"t":4,"v":1.0,"e":0.02},{"t":5,"v":1.0,"e":0.02},{"t":6,"v":1.01,"e":0.02},{"t":7,"v":1.0,"e":0.02},{"t":8,"v":1.0,"e":0.02},{"t":9,"v":1.0,"e":0.02},{"t":10,"v":1.01,"e":0.02},{"t":10.5,"v":0.9,"e":0.1},{"t":11,"v":1.01,"e":0.02},{"t":12,"v":1.01,"e":0.02},
      {"t":13,"v":0.17,"e":0.13},{"t":13.3,"v":0.09,"e":0.04},{"t":14,"v":0.16,"e":0.07},{"t":15,"v":0.16,"e":0.07},{"t":16,"v":0.15,"e":0.07},{"t":17,"v":0.15,"e":0.07},{"t":18,"v":0.14,"e":0.07},{"t":19,"v":0.14,"e":0.07},{"t":20,"v":0.13,"e":0.07},{"t":21,"v":0.13,"e":0.07},{"t":22,"v":0.13,"e":0.07},{"t":23,"v":0.13,"e":0.07},{"t":24,"v":0.13,"e":0.07},{"t":25,"v":0.14,"e":0.07},{"t":26,"v":0.14,"e":0.07},{"t":27,"v":0.15,"e":0.07},{"t":28,"v":0.16,"e":0.07},{"t":29,"v":0.16,"e":0.07},{"t":30,"v":0.17,"e":0.07},{"t":31,"v":0.18,"e":0.07},{"t":32,"v":0.19,"e":0.07},{"t":33,"v":0.19,"e":0.07},{"t":34,"v":0.2,"e":0.07},{"t":35,"v":0.2,"e":0.07},{"t":36,"v":0.21,"e":0.07},{"t":37,"v":0.21,"e":0.07},{"t":38,"v":0.22,"e":0.08},{"t":39,"v":0.22,"e":0.08},{"t":40,"v":0.23,"e":0.08},{"t":41,"v":0.23,"e":0.08},{"t":42,"v":0.24,"e":0.08},{"t":43,"v":0.24,"e":0.08},{"t":44,"v":0.25,"e":0.08},{"t":45,"v":0.26,"e":0.08},{"t":46,"v":0.27,"e":0.08},{"t":47,"v":0.27,"e":0.08},{"t":48,"v":0.28,"e":0.08},{"t":49,"v":0.28,"e":0.08},{"t":50,"v":0.28,"e":0.08},{"t":51,"v":0.29,"e":0.08},{"t":52,"v":0.29,"e":0.08},{"t":53,"v":0.29,"e":0.08},{"t":54,"v":0.3,"e":0.08},{"t":55,"v":0.3,"e":0.08},{"t":56,"v":0.3,"e":0.08},{"t":57,"v":0.31,"e":0.08},{"t":58,"v":0.31,"e":0.08},{"t":59,"v":0.31,"e":0.08},{"t":60,"v":0.32,"e":0.08},{"t":61,"v":0.32,"e":0.08},{"t":62,"v":0.32,"e":0.08},{"t":63,"v":0.33,"e":0.08},{"t":64,"v":0.33,"e":0.08},{"t":65,"v":0.33,"e":0.08},{"t":66,"v":0.34,"e":0.08},{"t":67,"v":0.34,"e":0.08},{"t":68,"v":0.34,"e":0.08},{"t":69,"v":0.34,"e":0.08},{"t":70,"v":0.35,"e":0.08},{"t":71,"v":0.35,"e":0.08},{"t":72,"v":0.35,"e":0.08},{"t":73,"v":0.35,"e":0.08},{"t":74,"v":0.35,"e":0.08},{"t":75,"v":0.36,"e":0.08},{"t":76,"v":0.36,"e":0.08},{"t":77,"v":0.36,"e":0.08},{"t":78,"v":0.36,"e":0.08},{"t":79,"v":0.37,"e":0.08},{"t":80,"v":0.37,"e":0.08},{"t":81,"v":0.37,"e":0.08},{"t":82,"v":0.37,"e":0.08},{"t":83,"v":0.38,"e":0.08},{"t":84,"v":0.38,"e":0.08},{"t":85,"v":0.38,"e":0.08},{"t":86,"v":0.38,"e":0.08},{"t":87,"v":0.39,"e":0.08},{"t":88,"v":0.39,"e":0.08},{"t":89,"v":0.39,"e":0.08},{"t":90,"v":0.39,"e":0.08}],
    "c27": [{"t":0,"v":1.0,"e":0.03},{"t":1,"v":0.99,"e":0.03},{"t":2,"v":1.0,"e":0.03},{"t":3,"v":1.0,"e":0.03},{"t":4,"v":1.0,"e":0.03},{"t":5,"v":1.01,"e":0.03},{"t":6,"v":1.0,"e":0.03},{"t":7,"v":1.01,"e":0.03},{"t":8,"v":1.0,"e":0.03},{"t":9,"v":1.01,"e":0.03},{"t":10,"v":1.01,"e":0.03},{"t":11,"v":1.02,"e":0.03},{"t":12,"v":1.01,"e":0.03},
      {"t":13,"v":0.16,"e":0.13},{"t":13.3,"v":0.08,"e":0.05},{"t":14,"v":0.17,"e":0.06},{"t":15,"v":0.17,"e":0.06},{"t":16,"v":0.17,"e":0.06},{"t":17,"v":0.17,"e":0.06},{"t":18,"v":0.16,"e":0.06},{"t":19,"v":0.15,"e":0.06},{"t":20,"v":0.14,"e":0.06},{"t":21,"v":0.14,"e":0.06},{"t":22,"v":0.13,"e":0.06},{"t":23,"v":0.13,"e":0.06},{"t":24,"v":0.13,"e":0.06},{"t":25,"v":0.13,"e":0.06},{"t":26,"v":0.14,"e":0.06},{"t":27,"v":0.14,"e":0.06},{"t":28,"v":0.15,"e":0.06},{"t":29,"v":0.16,"e":0.06},{"t":30,"v":0.17,"e":0.06},{"t":31,"v":0.18,"e":0.06},{"t":32,"v":0.19,"e":0.06},{"t":33,"v":0.19,"e":0.06},{"t":34,"v":0.2,"e":0.06},{"t":35,"v":0.21,"e":0.07},{"t":36,"v":0.21,"e":0.07},{"t":37,"v":0.22,"e":0.07},{"t":38,"v":0.23,"e":0.07},{"t":39,"v":0.23,"e":0.07},{"t":40,"v":0.24,"e":0.08},{"t":41,"v":0.24,"e":0.08},{"t":42,"v":0.25,"e":0.08},{"t":43,"v":0.26,"e":0.08},{"t":44,"v":0.26,"e":0.08},{"t":45,"v":0.27,"e":0.08},{"t":46,"v":0.28,"e":0.08},{"t":47,"v":0.28,"e":0.08},{"t":48,"v":0.29,"e":0.08},{"t":49,"v":0.29,"e":0.08},{"t":50,"v":0.3,"e":0.08},{"t":51,"v":0.3,"e":0.08},{"t":52,"v":0.3,"e":0.08},{"t":53,"v":0.31,"e":0.08},{"t":54,"v":0.31,"e":0.08},{"t":55,"v":0.31,"e":0.08},{"t":56,"v":0.32,"e":0.09},{"t":57,"v":0.32,"e":0.09},{"t":58,"v":0.33,"e":0.09},{"t":59,"v":0.33,"e":0.09},{"t":60,"v":0.33,"e":0.09},{"t":61,"v":0.33,"e":0.09},{"t":62,"v":0.34,"e":0.09},{"t":63,"v":0.34,"e":0.09},{"t":64,"v":0.34,"e":0.09},{"t":65,"v":0.34,"e":0.09},{"t":66,"v":0.35,"e":0.1},{"t":67,"v":0.35,"e":0.1},{"t":68,"v":0.35,"e":0.1},{"t":69,"v":0.36,"e":0.1},{"t":70,"v":0.36,"e":0.1},{"t":71,"v":0.36,"e":0.1},{"t":72,"v":0.37,"e":0.1},{"t":73,"v":0.37,"e":0.1},{"t":74,"v":0.37,"e":0.1},{"t":75,"v":0.38,"e":0.1},{"t":76,"v":0.38,"e":0.1},{"t":77,"v":0.38,"e":0.1},{"t":78,"v":0.38,"e":0.1},{"t":79,"v":0.39,"e":0.1},{"t":80,"v":0.39,"e":0.1},{"t":81,"v":0.39,"e":0.1},{"t":82,"v":0.39,"e":0.1},{"t":83,"v":0.39,"e":0.1},{"t":84,"v":0.39,"e":0.1},{"t":85,"v":0.4,"e":0.1},{"t":86,"v":0.4,"e":0.1},{"t":87,"v":0.45,"e":0.1},{"t":88,"v":0.4,"e":0.1},{"t":89,"v":0.4,"e":0.1},{"t":90,"v":0.4,"e":0.1}],
    "c33": [{"t":0,"v":1.0,"e":0.04},{"t":1,"v":0.99,"e":0.04},{"t":2,"v":1.0,"e":0.04},{"t":3,"v":1.01,"e":0.04},{"t":4,"v":1.0,"e":0.04},{"t":5,"v":1.0,"e":0.04},{"t":6,"v":1.01,"e":0.04},{"t":7,"v":1.0,"e":0.04},{"t":8,"v":1.0,"e":0.04},{"t":9,"v":1.0,"e":0.04},{"t":10,"v":1.01,"e":0.04},{"t":10.7,"v":0.97,"e":0.04},{"t":11,"v":1.07,"e":0.06},{"t":12,"v":1.01,"e":0.04},
      {"t":13,"v":0.19,"e":0.13},{"t":13.3,"v":0.13,"e":0.05},{"t":14,"v":0.2,"e":0.06},{"t":15,"v":0.2,"e":0.06},{"t":16,"v":0.19,"e":0.06},{"t":17,"v":0.17,"e":0.06},{"t":18,"v":0.15,"e":0.06},{"t":19,"v":0.14,"e":0.06},{"t":20,"v":0.13,"e":0.06},{"t":21,"v":0.12,"e":0.06},{"t":22,"v":0.12,"e":0.06},{"t":23,"v":0.12,"e":0.06},{"t":24,"v":0.12,"e":0.06},{"t":25,"v":0.12,"e":0.06},{"t":26,"v":0.12,"e":0.06},{"t":27,"v":0.13,"e":0.06},{"t":28,"v":0.13,"e":0.06},{"t":29,"v":0.14,"e":0.07},{"t":30,"v":0.14,"e":0.07},{"t":31,"v":0.15,"e":0.07},{"t":32,"v":0.15,"e":0.07},{"t":33,"v":0.16,"e":0.07},{"t":34,"v":0.16,"e":0.07},{"t":35,"v":0.17,"e":0.07},{"t":36,"v":0.18,"e":0.07},{"t":37,"v":0.18,"e":0.08},{"t":38,"v":0.19,"e":0.08},{"t":39,"v":0.2,"e":0.08},{"t":40,"v":0.2,"e":0.08},{"t":41,"v":0.21,"e":0.08},{"t":42,"v":0.22,"e":0.08},{"t":43,"v":0.23,"e":0.08},{"t":44,"v":0.23,"e":0.08},{"t":45,"v":0.24,"e":0.08},{"t":46,"v":0.25,"e":0.08},{"t":47,"v":0.25,"e":0.09},{"t":48,"v":0.26,"e":0.09},{"t":49,"v":0.27,"e":0.09},{"t":50,"v":0.27,"e":0.09},{"t":51,"v":0.28,"e":0.09},{"t":52,"v":0.28,"e":0.09},{"t":53,"v":0.29,"e":0.09},{"t":54,"v":0.29,"e":0.09},{"t":55,"v":0.3,"e":0.09},{"t":56,"v":0.3,"e":0.09},{"t":57,"v":0.31,"e":0.09},{"t":58,"v":0.31,"e":0.09},{"t":59,"v":0.32,"e":0.09},{"t":60,"v":0.32,"e":0.09},{"t":61,"v":0.33,"e":0.09},{"t":62,"v":0.33,"e":0.09},{"t":63,"v":0.34,"e":0.1},{"t":64,"v":0.34,"e":0.1},{"t":65,"v":0.34,"e":0.1},{"t":66,"v":0.35,"e":0.1},{"t":67,"v":0.35,"e":0.1},{"t":68,"v":0.35,"e":0.1},{"t":69,"v":0.36,"e":0.1},{"t":70,"v":0.36,"e":0.1},{"t":71,"v":0.36,"e":0.1},{"t":72,"v":0.36,"e":0.1},{"t":73,"v":0.37,"e":0.1},{"t":74,"v":0.37,"e":0.1},{"t":75,"v":0.37,"e":0.1},{"t":76,"v":0.37,"e":0.1},{"t":77,"v":0.38,"e":0.1},{"t":78,"v":0.38,"e":0.1},{"t":79,"v":0.38,"e":0.1},{"t":80,"v":0.38,"e":0.1},{"t":81,"v":0.39,"e":0.1},{"t":82,"v":0.39,"e":0.1},{"t":83,"v":0.4,"e":0.1},{"t":84,"v":0.4,"e":0.1},{"t":85,"v":0.4,"e":0.1},{"t":86,"v":0.4,"e":0.1},{"t":87,"v":0.41,"e":0.1},{"t":88,"v":0.41,"e":0.1},{"t":89,"v":0.41,"e":0.1},{"t":90,"v":0.41,"e":0.1}],
    "c34": [{"t":0,"v":1.0,"e":0.03},{"t":1,"v":1.0,"e":0.03},{"t":2,"v":1.01,"e":0.03},{"t":3,"v":1.0,"e":0.03},{"t":4,"v":1.01,"e":0.03},{"t":5,"v":1.0,"e":0.03},{"t":6,"v":1.0,"e":0.03},{"t":7,"v":1.0,"e":0.03},{"t":8,"v":0.99,"e":0.03},{"t":9,"v":1.0,"e":0.03},{"t":10,"v":1.0,"e":0.03},{"t":10.5,"v":0.94,"e":0.06},{"t":11,"v":1.0,"e":0.03},{"t":12,"v":1.0,"e":0.03},
      {"t":13,"v":0.18,"e":0.14},{"t":13.3,"v":0.09,"e":0.04},{"t":14,"v":0.19,"e":0.06},{"t":15,"v":0.19,"e":0.06},{"t":16,"v":0.18,"e":0.06},{"t":17,"v":0.17,"e":0.06},{"t":18,"v":0.15,"e":0.06},{"t":19,"v":0.14,"e":0.06},{"t":20,"v":0.13,"e":0.06},{"t":21,"v":0.12,"e":0.06},{"t":22,"v":0.11,"e":0.06},{"t":23,"v":0.1,"e":0.06},{"t":24,"v":0.1,"e":0.06},{"t":25,"v":0.1,"e":0.06},{"t":26,"v":0.11,"e":0.06},{"t":27,"v":0.11,"e":0.06},{"t":28,"v":0.12,"e":0.06},{"t":29,"v":0.12,"e":0.06},{"t":30,"v":0.13,"e":0.06},{"t":31,"v":0.13,"e":0.06},{"t":32,"v":0.14,"e":0.06},{"t":33,"v":0.14,"e":0.06},{"t":34,"v":0.15,"e":0.06},{"t":35,"v":0.15,"e":0.07},{"t":36,"v":0.16,"e":0.07},{"t":37,"v":0.16,"e":0.07},{"t":38,"v":0.17,"e":0.07},{"t":39,"v":0.17,"e":0.07},{"t":40,"v":0.18,"e":0.07},{"t":41,"v":0.18,"e":0.07},{"t":42,"v":0.19,"e":0.07},{"t":43,"v":0.2,"e":0.07},{"t":44,"v":0.21,"e":0.07},{"t":45,"v":0.21,"e":0.07},{"t":46,"v":0.22,"e":0.07},{"t":47,"v":0.22,"e":0.07},{"t":48,"v":0.23,"e":0.07},{"t":49,"v":0.23,"e":0.07},{"t":50,"v":0.24,"e":0.07},{"t":51,"v":0.24,"e":0.07},{"t":52,"v":0.25,"e":0.07},{"t":53,"v":0.25,"e":0.07},{"t":54,"v":0.25,"e":0.07},{"t":55,"v":0.26,"e":0.07},{"t":56,"v":0.26,"e":0.07},{"t":57,"v":0.26,"e":0.08},{"t":58,"v":0.27,"e":0.08},{"t":59,"v":0.27,"e":0.08},{"t":60,"v":0.27,"e":0.08},{"t":61,"v":0.28,"e":0.08},{"t":62,"v":0.28,"e":0.08},{"t":63,"v":0.28,"e":0.08},{"t":64,"v":0.29,"e":0.08},{"t":65,"v":0.29,"e":0.08},{"t":66,"v":0.29,"e":0.08},{"t":67,"v":0.3,"e":0.08},{"t":68,"v":0.3,"e":0.08},{"t":69,"v":0.3,"e":0.08},{"t":70,"v":0.3,"e":0.08},{"t":71,"v":0.31,"e":0.08},{"t":72,"v":0.31,"e":0.08},{"t":73,"v":0.31,"e":0.08},{"t":74,"v":0.31,"e":0.08},{"t":75,"v":0.31,"e":0.08},{"t":76,"v":0.31,"e":0.08},{"t":77,"v":0.32,"e":0.08},{"t":78,"v":0.32,"e":0.08},{"t":79,"v":0.32,"e":0.08},{"t":80,"v":0.32,"e":0.08},{"t":81,"v":0.32,"e":0.08},{"t":82,"v":0.32,"e":0.08},{"t":83,"v":0.33,"e":0.08},{"t":84,"v":0.33,"e":0.08},{"t":85,"v":0.33,"e":0.08},{"t":86,"v":0.33,"e":0.08},{"t":87,"v":0.34,"e":0.08},{"t":88,"v":0.34,"e":0.08},{"t":89,"v":0.34,"e":0.08},{"t":90,"v":0.34,"e":0.08}],
    "c35": [{"t":0,"v":1.0,"e":0.03},{"t":1,"v":0.99,"e":0.03},{"t":2,"v":1.0,"e":0.03},{"t":3,"v":1.0,"e":0.03},{"t":4,"v":1.01,"e":0.03},{"t":5,"v":1.0,"e":0.03},{"t":6,"v":1.0,"e":0.03},{"t":7,"v":1.0,"e":0.03},{"t":8,"v":1.0,"e":0.03},{"t":9,"v":1.0,"e":0.03},{"t":10,"v":1.0,"e":0.03},{"t":11,"v":1.04,"e":0.07},{"t":12,"v":1.0,"e":0.03},
      {"t":13,"v":0.19,"e":0.13},{"t":13.3,"v":0.12,"e":0.05},{"t":14,"v":0.2,"e":0.06},{"t":15,"v":0.2,"e":0.06},{"t":16,"v":0.2,"e":0.06},{"t":17,"v":0.19,"e":0.06},{"t":18,"v":0.17,"e":0.06},{"t":19,"v":0.15,"e":0.06},{"t":20,"v":0.14,"e":0.06},{"t":21,"v":0.13,"e":0.06},{"t":22,"v":0.12,"e":0.06},{"t":23,"v":0.12,"e":0.06},{"t":24,"v":0.12,"e":0.06},{"t":25,"v":0.12,"e":0.06},{"t":26,"v":0.12,"e":0.06},{"t":27,"v":0.13,"e":0.06},{"t":28,"v":0.13,"e":0.06},{"t":29,"v":0.14,"e":0.06},{"t":30,"v":0.15,"e":0.06},{"t":31,"v":0.15,"e":0.07},{"t":32,"v":0.16,"e":0.07},{"t":33,"v":0.17,"e":0.07},{"t":34,"v":0.18,"e":0.07},{"t":35,"v":0.18,"e":0.07},{"t":36,"v":0.19,"e":0.07},{"t":37,"v":0.2,"e":0.07},{"t":38,"v":0.21,"e":0.07},{"t":39,"v":0.22,"e":0.07},{"t":40,"v":0.23,"e":0.07},{"t":41,"v":0.24,"e":0.08},{"t":42,"v":0.25,"e":0.08},{"t":43,"v":0.26,"e":0.08},{"t":44,"v":0.27,"e":0.08},{"t":45,"v":0.28,"e":0.08},{"t":46,"v":0.29,"e":0.08},{"t":47,"v":0.29,"e":0.08},{"t":48,"v":0.3,"e":0.08},{"t":49,"v":0.3,"e":0.08},{"t":50,"v":0.31,"e":0.08},{"t":51,"v":0.31,"e":0.08},{"t":52,"v":0.32,"e":0.08},{"t":53,"v":0.32,"e":0.08},{"t":54,"v":0.32,"e":0.08},{"t":55,"v":0.33,"e":0.08},{"t":56,"v":0.33,"e":0.08},{"t":57,"v":0.33,"e":0.08},{"t":58,"v":0.33,"e":0.08},{"t":59,"v":0.34,"e":0.08},{"t":60,"v":0.34,"e":0.08},{"t":61,"v":0.34,"e":0.09},{"t":62,"v":0.34,"e":0.09},{"t":63,"v":0.35,"e":0.09},{"t":64,"v":0.35,"e":0.09},{"t":65,"v":0.35,"e":0.09},{"t":66,"v":0.35,"e":0.09},{"t":67,"v":0.36,"e":0.09},{"t":68,"v":0.36,"e":0.09},{"t":69,"v":0.36,"e":0.09},{"t":70,"v":0.37,"e":0.09},{"t":71,"v":0.37,"e":0.09},{"t":72,"v":0.37,"e":0.09},{"t":73,"v":0.37,"e":0.09},{"t":74,"v":0.38,"e":0.09},{"t":75,"v":0.38,"e":0.09},{"t":76,"v":0.38,"e":0.09},{"t":77,"v":0.38,"e":0.09},{"t":78,"v":0.39,"e":0.09},{"t":79,"v":0.39,"e":0.09},{"t":80,"v":0.39,"e":0.09},{"t":81,"v":0.39,"e":0.09},{"t":82,"v":0.4,"e":0.09},{"t":83,"v":0.4,"e":0.09},{"t":84,"v":0.4,"e":0.09},{"t":85,"v":0.4,"e":0.09},{"t":86,"v":0.4,"e":0.09},{"t":87,"v":0.41,"e":0.09},{"t":88,"v":0.41,"e":0.09},{"t":89,"v":0.41,"e":0.09},{"t":90,"v":0.41,"e":0.09}],
    "c41": [{"t":0,"v":1.02,"e":0.08},{"t":0.5,"v":0.98,"e":0.08},{"t":1,"v":0.99,"e":0.09},{"t":2,"v":0.95,"e":0.1},{"t":2.5,"v":0.9,"e":0.1},{"t":3,"v":0.92,"e":0.1},{"t":4,"v":1.16,"e":0.1},{"t":4.5,"v":0.95,"e":0.1},{"t":5,"v":1.17,"e":0.1},{"t":6,"v":0.93,"e":0.12},{"t":6.5,"v":1.0,"e":0.12},{"t":7,"v":1.05,"e":0.12},{"t":8,"v":1.18,"e":0.13},{"t":8.5,"v":1.15,"e":0.12},{"t":9,"v":0.96,"e":0.12},{"t":9.5,"v":0.98,"e":0.12},{"t":10,"v":0.92,"e":0.12},{"t":10.5,"v":0.97,"e":0.12},{"t":11,"v":0.75,"e":0.12},{"t":11.5,"v":0.88,"e":0.12},{"t":12,"v":0.95,"e":0.12},{"t":12.5,"v":0.85,"e":0.12},
      {"t":13,"v":0.42,"e":0.12},{"t":14,"v":0.48,"e":0.12},{"t":15,"v":0.55,"e":0.12},{"t":15.5,"v":0.68,"e":0.12},{"t":16,"v":0.5,"e":0.12},{"t":17,"v":0.58,"e":0.12},{"t":18,"v":0.45,"e":0.12},{"t":19,"v":0.38,"e":0.11},{"t":20,"v":0.35,"e":0.11},{"t":21,"v":0.3,"e":0.1},{"t":22,"v":0.32,"e":0.1},{"t":23,"v":0.25,"e":0.1},{"t":24,"v":0.27,"e":0.1},{"t":25,"v":0.2,"e":0.1},{"t":26,"v":0.22,"e":0.1},{"t":27,"v":0.3,"e":0.1},{"t":28,"v":0.25,"e":0.1},{"t":29,"v":0.33,"e":0.1},{"t":30,"v":0.28,"e":0.1},{"t":31,"v":0.22,"e":0.1},{"t":32,"v":0.35,"e":0.1},{"t":33,"v":0.27,"e":0.1},{"t":34,"v":0.48,"e":0.1},{"t":35,"v":0.3,"e":0.1},{"t":36,"v":0.38,"e":0.1},{"t":37,"v":0.28,"e":0.1},{"t":38,"v":0.36,"e":0.1},{"t":39,"v":0.32,"e":0.1},{"t":40,"v":0.37,"e":0.1},{"t":41,"v":0.33,"e":0.1},{"t":42,"v":0.4,"e":0.1},{"t":43,"v":0.35,"e":0.1},{"t":44,"v":0.38,"e":0.1},{"t":45,"v":0.42,"e":0.1},{"t":46,"v":0.55,"e":0.1},{"t":47,"v":0.36,"e":0.1},{"t":48,"v":0.43,"e":0.1},{"t":49,"v":0.4,"e":0.1},{"t":50,"v":0.45,"e":0.1},{"t":51,"v":0.38,"e":0.1},{"t":52,"v":0.47,"e":0.1},{"t":53,"v":0.6,"e":0.1},{"t":54,"v":0.42,"e":0.1},{"t":55,"v":0.48,"e":0.1},{"t":56,"v":0.4,"e":0.1},{"t":57,"v":0.46,"e":0.1},{"t":58,"v":0.42,"e":0.1},{"t":59,"v":0.5,"e":0.1},{"t":60,"v":0.44,"e":0.1},{"t":61,"v":0.47,"e":0.1},{"t":62,"v":0.52,"e":0.1},{"t":63,"v":0.45,"e":0.1},{"t":64,"v":0.5,"e":0.1},{"t":65,"v":0.48,"e":0.1},{"t":66,"v":0.65,"e":0.12},{"t":67,"v":0.4,"e":0.1},{"t":68,"v":0.55,"e":0.1},{"t":69,"v":0.5,"e":0.1},{"t":70,"v":0.58,"e":0.1},{"t":71,"v":0.52,"e":0.1},{"t":72,"v":0.48,"e":0.1},{"t":73,"v":0.68,"e":0.12},{"t":74,"v":0.55,"e":0.1},{"t":75,"v":0.75,"e":0.15},{"t":76,"v":0.5,"e":0.1},{"t":77,"v":0.53,"e":0.1},{"t":78,"v":0.46,"e":0.1},{"t":79,"v":0.55,"e":0.1},{"t":80,"v":0.5,"e":0.1},{"t":81,"v":0.48,"e":0.1},{"t":82,"v":0.56,"e":0.1},{"t":83,"v":0.47,"e":0.1},{"t":84,"v":0.65,"e":0.13},{"t":84.5,"v":0.35,"e":0.08},{"t":85,"v":0.52,"e":0.1},{"t":86,"v":0.47,"e":0.1},{"t":87,"v":0.55,"e":0.1},{"t":88,"v":0.5,"e":0.1},{"t":89,"v":0.53,"e":0.1},{"t":90,"v":0.52,"e":0.1}],
    "c42": [{"t":0,"v":1.0,"e":0.07},{"t":1,"v":0.97,"e":0.07},{"t":2,"v":1.02,"e":0.07},{"t":3,"v":0.99,"e":0.07},{"t":3.5,"v":0.93,"e":0.13},{"t":4,"v":0.96,"e":0.07},{"t":5,"v":1.05,"e":0.07},{"t":6,"v":1.03,"e":0.07},{"t":7,"v":0.98,"e":0.07},{"t":8,"v":1.05,"e":0.07},{"t":9,"v":1.0,"e":0.07},{"t":10,"v":0.96,"e":0.07},{"t":11,"v":1.13,"e":0.17},{"t":11.5,"v":0.97,"e":0.07},{"t":12,"v":1.05,"e":0.07},
      {"t":13,"v":0.25,"e":0.07},{"t":14,"v":0.32,"e":0.1},{"t":15,"v":0.29,"e":0.08},{"t":16,"v":0.26,"e":0.07},{"t":17,"v":0.22,"e":0.07},{"t":18,"v":0.2,"e":0.07},{"t":19,"v":0.18,"e":0.07},{"t":20,"v":0.17,"e":0.07},{"t":21,"v":0.15,"e":0.07},{"t":22,"v":0.14,"e":0.07},{"t":23,"v":0.12,"e":0.07},{"t":24,"v":0.11,"e":0.07},{"t":25,"v":0.12,"e":0.07},{"t":26,"v":0.11,"e":0.07},{"t":27,"v":0.13,"e":0.07},{"t":28,"v":0.13,"e":0.07},{"t":29,"v":0.14,"e":0.07},{"t":30,"v":0.16,"e":0.08},{"t":31,"v":0.17,"e":0.08},{"t":32,"v":0.19,"e":0.08},{"t":32.5,"v":0.29,"e":0.11},{"t":33,"v":0.2,"e":0.08},{"t":34,"v":0.22,"e":0.09},{"t":35,"v":0.23,"e":0.09},{"t":36,"v":0.25,"e":0.09},{"t":37,"v":0.24,"e":0.09},{"t":38,"v":0.27,"e":0.1},{"t":39,"v":0.26,"e":0.1},{"t":40,"v":0.23,"e":0.1},{"t":41,"v":0.28,"e":0.1},{"t":42,"v":0.3,"e":0.1},{"t":43,"v":0.35,"e":0.1},{"t":44,"v":0.31,"e":0.1},{"t":45,"v":0.33,"e":0.11},{"t":46,"v":0.34,"e":0.12},{"t":47,"v":0.38,"e":0.12},{"t":48,"v":0.36,"e":0.12},{"t":49,"v":0.37,"e":0.13},{"t":50,"v":0.38,"e":0.13},{"t":51,"v":0.38,"e":0.14},{"t":52,"v":0.37,"e":0.14},{"t":53,"v":0.38,"e":0.14},{"t":53.5,"v":0.5,"e":0.15},{"t":54,"v":0.37,"e":0.14},{"t":55,"v":0.36,"e":0.15},{"t":56,"v":0.37,"e":0.15},{"t":57,"v":0.35,"e":0.15},{"t":58,"v":0.34,"e":0.15},{"t":59,"v":0.37,"e":0.16},{"t":60,"v":0.38,"e":0.16},{"t":61,"v":0.39,"e":0.16},{"t":62,"v":0.4,"e":0.17},{"t":63,"v":0.41,"e":0.17},{"t":64,"v":0.42,"e":0.17},{"t":65,"v":0.42,"e":0.18},{"t":66,"v":0.43,"e":0.18},{"t":67,"v":0.45,"e":0.18},{"t":68,"v":0.52,"e":0.2},{"t":69,"v":0.44,"e":0.18},{"t":70,"v":0.45,"e":0.19},{"t":71,"v":0.45,"e":0.19},{"t":72,"v":0.46,"e":0.19},{"t":73,"v":0.47,"e":0.2},{"t":74,"v":0.46,"e":0.2},{"t":75,"v":0.47,"e":0.2},{"t":76,"v":0.48,"e":0.21},{"t":77,"v":0.49,"e":0.21},{"t":78,"v":0.48,"e":0.21},{"t":79,"v":0.47,"e":0.21},{"t":80,"v":0.48,"e":0.22},{"t":81,"v":0.47,"e":0.22},{"t":82,"v":0.46,"e":0.22},{"t":83,"v":0.48,"e":0.22},{"t":84,"v":0.5,"e":0.22},{"t":85,"v":0.53,"e":0.22},{"t":86,"v":0.49,"e":0.22},{"t":87,"v":0.51,"e":0.22},{"t":88,"v":0.52,"e":0.22},{"t":89,"v":0.55,"e":0.22},{"t":90,"v":0.58,"e":0.22},{"t":90.2,"v":0.62,"e":0.2}],
    "c43": [{"t":0,"v":0.97,"e":0.08},{"t":1,"v":0.95,"e":0.08},{"t":2,"v":1.02,"e":0.08},{"t":3,"v":1.08,"e":0.08},{"t":4,"v":1.0,"e":0.08},{"t":5,"v":1.05,"e":0.08},{"t":6,"v":1.15,"e":0.12},{"t":7,"v":1.03,"e":0.08},{"t":8,"v":1.02,"e":0.08},{"t":9,"v":0.98,"e":0.08},{"t":10,"v":1.0,"e":0.08},{"t":11,"v":0.97,"e":0.08},{"t":12,"v":1.0,"e":0.08},
      {"t":13,"v":0.4,"e":0.17},{"t":13.5,"v":0.27,"e":0.07},{"t":14,"v":0.3,"e":0.07},{"t":15,"v":0.31,"e":0.07},{"t":16,"v":0.28,"e":0.07},{"t":17,"v":0.25,"e":0.07},{"t":18,"v":0.24,"e":0.07},{"t":19,"v":0.22,"e":0.07},{"t":20,"v":0.2,"e":0.07},{"t":21,"v":0.19,"e":0.07},{"t":22,"v":0.2,"e":0.07},{"t":23,"v":0.18,"e":0.07},{"t":24,"v":0.17,"e":0.07},{"t":25,"v":0.16,"e":0.07},{"t":26,"v":0.18,"e":0.07},{"t":27,"v":0.31,"e":0.08},{"t":28,"v":0.17,"e":0.07},{"t":29,"v":0.19,"e":0.07},{"t":30,"v":0.2,"e":0.07},{"t":31,"v":0.19,"e":0.07},{"t":32,"v":0.21,"e":0.07},{"t":32.5,"v":0.42,"e":0.22},{"t":33,"v":0.2,"e":0.07},{"t":34,"v":0.22,"e":0.07},{"t":35,"v":0.24,"e":0.07},{"t":36,"v":0.26,"e":0.07},{"t":37,"v":0.27,"e":0.07},{"t":38,"v":0.3,"e":0.08},{"t":39,"v":0.32,"e":0.08},{"t":40,"v":0.33,"e":0.09},{"t":41,"v":0.36,"e":0.09},{"t":42,"v":0.47,"e":0.1},{"t":43,"v":0.38,"e":0.1},{"t":44,"v":0.4,"e":0.1},{"t":45,"v":0.41,"e":0.1},{"t":46,"v":0.43,"e":0.11},{"t":47,"v":0.44,"e":0.11},{"t":48,"v":0.45,"e":0.11},{"t":49,"v":0.46,"e":0.12},{"t":50,"v":0.45,"e":0.12},{"t":51,"v":0.47,"e":0.12},{"t":52,"v":0.46,"e":0.13},{"t":53,"v":0.48,"e":0.13},{"t":54,"v":0.63,"e":0.22},{"t":55,"v":0.47,"e":0.14},{"t":56,"v":0.49,"e":0.14},{"t":57,"v":0.48,"e":0.15},{"t":58,"v":0.5,"e":0.15},{"t":59,"v":0.49,"e":0.15},{"t":60,"v":0.5,"e":0.16},{"t":61,"v":0.51,"e":0.16},{"t":62,"v":0.52,"e":0.16},{"t":63,"v":0.52,"e":0.17},{"t":64,"v":0.53,"e":0.17},{"t":65,"v":0.54,"e":0.17},{"t":66,"v":0.55,"e":0.18},{"t":67,"v":0.56,"e":0.18},{"t":68,"v":0.55,"e":0.18},{"t":69,"v":0.57,"e":0.18},{"t":70,"v":0.56,"e":0.19},{"t":71,"v":0.57,"e":0.19},{"t":72,"v":0.58,"e":0.19},{"t":73,"v":0.57,"e":0.19},{"t":74,"v":0.58,"e":0.19},{"t":75,"v":0.59,"e":0.19},{"t":76,"v":0.58,"e":0.19},{"t":77,"v":0.59,"e":0.19},{"t":78,"v":0.6,"e":0.19},{"t":79,"v":0.59,"e":0.19},{"t":80,"v":0.6,"e":0.19},{"t":81,"v":0.61,"e":0.19},{"t":82,"v":0.6,"e":0.19},{"t":83,"v":0.61,"e":0.19},{"t":84,"v":0.62,"e":0.19},{"t":85,"v":0.77,"e":0.23},{"t":86,"v":0.61,"e":0.19},{"t":87,"v":0.62,"e":0.19},{"t":88,"v":0.63,"e":0.19},{"t":89,"v":0.62,"e":0.19},{"t":90,"v":0.7,"e":0.19}],
    "c49": [{"t":0,"v":1.32,"e":0.12},{"t":0.5,"v":0.77,"e":0.16},{"t":1,"v":1.05,"e":0.1},{"t":1.5,"v":0.95,"e":0.1},{"t":2,"v":1.02,"e":0.1},{"t":2.5,"v":1.08,"e":0.1},{"t":3,"v":0.92,"e":0.1},{"t":3.5,"v":0.98,"e":0.1},{"t":4,"v":1.05,"e":0.1},{"t":4.5,"v":0.9,"e":0.1},{"t":5,"v":1.0,"e":0.1},{"t":5.5,"v":1.07,"e":0.1},{"t":6,"v":0.93,"e":0.1},{"t":6.5,"v":1.1,"e":0.1},{"t":7,"v":0.96,"e":0.1},{"t":7.5,"v":1.12,"e":0.1},{"t":8,"v":0.8,"e":0.1},{"t":8.5,"v":0.85,"e":0.1},{"t":9,"v":0.95,"e":0.1},{"t":9.5,"v":1.0,"e":0.1},{"t":10,"v":0.9,"e":0.1},{"t":10.5,"v":1.02,"e":0.1},{"t":11,"v":0.93,"e":0.1},{"t":11.5,"v":0.97,"e":0.1},{"t":12,"v":1.0,"e":0.1},
      {"t":13,"v":0.27,"e":0.1},{"t":14,"v":0.22,"e":0.1},{"t":15,"v":0.31,"e":0.1},{"t":16,"v":0.24,"e":0.1},{"t":17,"v":0.27,"e":0.1},{"t":18,"v":0.2,"e":0.1},{"t":19,"v":0.3,"e":0.1},{"t":20,"v":0.26,"e":0.1},{"t":21,"v":0.24,"e":0.1},{"t":22,"v":0.32,"e":0.1},{"t":23,"v":0.23,"e":0.1},{"t":24,"v":0.3,"e":0.1},{"t":25,"v":0.34,"e":0.1},{"t":25.5,"v":0.17,"e":0.06},{"t":26,"v":0.29,"e":0.1},{"t":27,"v":0.26,"e":0.1},{"t":28,"v":0.38,"e":0.1},{"t":29,"v":0.33,"e":0.1},{"t":30,"v":0.32,"e":0.1},{"t":31,"v":0.37,"e":0.1},{"t":32,"v":0.3,"e":0.1},{"t":33,"v":0.4,"e":0.1},{"t":34,"v":0.35,"e":0.1},{"t":35,"v":0.34,"e":0.1},{"t":36,"v":0.45,"e":0.1},{"t":37,"v":0.42,"e":0.1},{"t":38,"v":0.39,"e":0.1},{"t":39,"v":0.48,"e":0.1},{"t":39.5,"v":0.7,"e":0.15},{"t":40,"v":0.51,"e":0.1},{"t":41,"v":0.45,"e":0.1},{"t":42,"v":0.5,"e":0.1},{"t":43,"v":0.45,"e":0.1},{"t":44,"v":0.56,"e":0.1},{"t":45,"v":0.51,"e":0.1},{"t":46,"v":0.55,"e":0.1},{"t":46.5,"v":0.84,"e":0.24},{"t":47,"v":0.5,"e":0.1},{"t":48,"v":0.58,"e":0.1},{"t":49,"v":0.48,"e":0.1},{"t":50,"v":0.53,"e":0.1},{"t":51,"v":0.56,"e":0.1},{"t":52,"v":0.46,"e":0.1},{"t":53,"v":0.53,"e":0.1},{"t":54,"v":0.51,"e":0.1},{"t":55,"v":0.56,"e":0.1},{"t":56,"v":0.48,"e":0.1},{"t":57,"v":0.57,"e":0.1},{"t":58,"v":0.5,"e":0.1},{"t":59,"v":0.5,"e":0.1},{"t":59.5,"v":0.87,"e":0.23},{"t":60,"v":0.45,"e":0.1},{"t":61,"v":0.53,"e":0.1},{"t":62,"v":0.53,"e":0.1},{"t":63,"v":0.48,"e":0.1},{"t":64,"v":0.57,"e":0.1},{"t":65,"v":0.46,"e":0.1},{"t":66,"v":0.54,"e":0.1},{"t":67,"v":0.57,"e":0.1},{"t":68,"v":0.52,"e":0.1},{"t":69,"v":0.59,"e":0.1},{"t":70,"v":0.52,"e":0.1},{"t":71,"v":0.58,"e":0.1},{"t":72,"v":0.64,"e":0.1},{"t":73,"v":0.57,"e":0.1},{"t":74,"v":0.56,"e":0.1},{"t":75,"v":0.62,"e":0.1},{"t":76,"v":0.55,"e":0.1},{"t":77,"v":0.66,"e":0.1},{"t":78,"v":0.61,"e":0.1},{"t":79,"v":0.59,"e":0.1},{"t":80,"v":0.65,"e":0.1},{"t":81,"v":0.61,"e":0.1},{"t":82,"v":0.68,"e":0.12},{"t":83,"v":0.37,"e":0.06},{"t":84,"v":0.63,"e":0.1},{"t":85,"v":0.66,"e":0.1},{"t":86,"v":0.56,"e":0.1},{"t":87,"v":0.64,"e":0.1},{"t":88,"v":0.68,"e":0.1},{"t":89,"v":0.62,"e":0.1},{"t":89.5,"v":0.82,"e":0.2},{"t":90,"v":0.67,"e":0.1}],
    "c50": [{"t":0,"v":1.05,"e":0.1},{"t":0.5,"v":0.98,"e":0.1},{"t":1,"v":1.08,"e":0.1},{"t":1.5,"v":0.95,"e":0.1},{"t":2,"v":1.02,"e":0.1},{"t":2.5,"v":0.97,"e":0.1},{"t":3,"v":1.1,"e":0.1},{"t":3.5,"v":0.93,"e":0.1},{"t":4,"v":1.0,"e":0.1},{"t":4.5,"v":1.05,"e":0.1},{"t":5,"v":0.96,"e":0.1},{"t":5.5,"v":1.0,"e":0.1},{"t":6,"v":0.92,"e":0.1},{"t":6.5,"v":1.03,"e":0.1},{"t":7,"v":0.98,"e":0.1},{"t":7.5,"v":1.1,"e":0.1},{"t":8,"v":1.15,"e":0.1},{"t":8.5,"v":0.9,"e":0.1},{"t":9,"v":0.85,"e":0.1},{"t":9.5,"v":0.78,"e":0.08},{"t":10,"v":1.0,"e":0.1},{"t":10.5,"v":0.95,"e":0.1},{"t":11,"v":1.05,"e":0.1},{"t":11.5,"v":0.9,"e":0.1},{"t":12,"v":0.95,"e":0.1},
      {"t":13,"v":0.14,"e":0.06},{"t":14,"v":0.19,"e":0.06},{"t":15,"v":0.21,"e":0.07},{"t":16,"v":0.19,"e":0.07},{"t":17,"v":0.17,"e":0.07},{"t":18,"v":0.26,"e":0.07},{"t":19,"v":0.23,"e":0.07},{"t":20,"v":0.24,"e":0.07},{"t":21,"v":0.27,"e":0.08},{"t":22,"v":0.24,"e":0.08},{"t":23,"v":0.31,"e":0.08},{"t":24,"v":0.29,"e":0.08},{"t":25,"v":0.29,"e":0.08},{"t":26,"v":0.37,"e":0.08},{"t":27,"v":0.35,"e":0.08},{"t":28,"v":0.32,"e":0.08},{"t":29,"v":0.39,"e":0.09},{"t":30,"v":0.42,"e":0.09},{"t":31,"v":0.57,"e":0.09},{"t":32,"v":0.44,"e":0.09},{"t":33,"v":0.42,"e":0.09},{"t":34,"v":0.49,"e":0.09},{"t":35,"v":0.48,"e":0.09},{"t":36,"v":0.51,"e":0.09},{"t":37,"v":0.49,"e":0.09},{"t":38,"v":0.54,"e":0.09},{"t":39,"v":0.48,"e":0.09},{"t":40,"v":0.52,"e":0.09},{"t":41,"v":0.56,"e":0.09},{"t":42,"v":0.49,"e":0.09},{"t":43,"v":0.55,"e":0.09},{"t":44,"v":0.53,"e":0.09},{"t":45,"v":0.57,"e":0.09},{"t":46,"v":0.53,"e":0.09},{"t":47,"v":0.59,"e":0.09},{"t":48,"v":0.56,"e":0.09},{"t":49,"v":0.56,"e":0.09},{"t":50,"v":0.53,"e":0.09},{"t":51,"v":0.58,"e":0.09},{"t":52,"v":0.38,"e":0.06},{"t":53,"v":0.6,"e":0.09},{"t":54,"v":0.56,"e":0.09},{"t":55,"v":0.6,"e":0.09},{"t":55.5,"v":0.76,"e":0.15},{"t":56,"v":0.54,"e":0.09},{"t":57,"v":0.58,"e":0.09},{"t":58,"v":0.6,"e":0.09},{"t":59,"v":0.57,"e":0.09},{"t":60,"v":0.62,"e":0.09},{"t":61,"v":0.57,"e":0.09},{"t":61.5,"v":0.76,"e":0.14},{"t":62,"v":0.56,"e":0.09},{"t":63,"v":0.58,"e":0.09},{"t":64,"v":0.53,"e":0.09},{"t":65,"v":0.6,"e":0.09},{"t":66,"v":0.57,"e":0.09},{"t":67,"v":0.55,"e":0.09},{"t":68,"v":0.6,"e":0.09},{"t":69,"v":0.58,"e":0.09},{"t":70,"v":0.62,"e":0.09},{"t":71,"v":0.55,"e":0.09},{"t":72,"v":0.59,"e":0.09},{"t":73,"v":0.59,"e":0.09},{"t":73.5,"v":0.76,"e":0.13},{"t":74,"v":0.53,"e":0.09},{"t":75,"v":0.57,"e":0.09},{"t":76,"v":0.6,"e":0.09},{"t":77,"v":0.56,"e":0.09},{"t":78,"v":0.57,"e":0.09},{"t":79,"v":0.57,"e":0.09},{"t":80,"v":0.42,"e":0.07},{"t":81,"v":0.6,"e":0.09},{"t":82,"v":0.55,"e":0.09},{"t":83,"v":0.55,"e":0.09},{"t":84,"v":0.51,"e":0.09},{"t":85,"v":0.58,"e":0.09},{"t":86,"v":0.54,"e":0.09},{"t":87,"v":0.59,"e":0.09},{"t":88,"v":0.54,"e":0.09},{"t":89,"v":0.59,"e":0.09},{"t":90,"v":0.57,"e":0.09}],
    "c51": [{"t":0,"v":1.05,"e":0.12},{"t":0.5,"v":0.95,"e":0.12},{"t":1,"v":1.12,"e":0.12},{"t":1.5,"v":0.9,"e":0.12},{"t":2,"v":1.0,"e":0.12},{"t":2.5,"v":1.08,"e":0.12},{"t":3,"v":0.85,"e":0.12},{"t":3.5,"v":1.03,"e":0.12},{"t":4,"v":1.15,"e":0.12},{"t":4.5,"v":0.95,"e":0.12},{"t":5,"v":1.05,"e":0.12},{"t":5.5,"v":0.88,"e":0.12},{"t":6,"v":1.1,"e":0.12},{"t":6.5,"v":0.82,"e":0.12},{"t":7,"v":1.0,"e":0.12},{"t":7.5,"v":0.97,"e":0.12},{"t":8,"v":1.08,"e":0.12},{"t":8.5,"v":0.9,"e":0.12},{"t":9,"v":1.05,"e":0.12},{"t":9.5,"v":0.95,"e":0.12},{"t":10,"v":1.0,"e":0.12},{"t":10.5,"v":0.92,"e":0.12},{"t":11,"v":1.02,"e":0.12},{"t":11.5,"v":0.96,"e":0.12},{"t":12,"v":0.98,"e":0.12},
      {"t":13,"v":0.32,"e":0.1},{"t":14,"v":0.27,"e":0.1},{"t":15,"v":0.25,"e":0.1},{"t":16,"v":0.34,"e":0.1},{"t":17,"v":0.28,"e":0.1},{"t":18,"v":0.22,"e":0.1},{"t":19,"v":0.3,"e":0.1},{"t":20,"v":0.32,"e":0.1},{"t":21,"v":0.25,"e":0.1},{"t":22,"v":0.29,"e":0.1},{"t":23,"v":0.24,"e":0.1},{"t":24,"v":0.35,"e":0.1},{"t":25,"v":0.3,"e":0.1},{"t":25.5,"v":0.5,"e":0.1},{"t":26,"v":0.35,"e":0.1},{"t":27,"v":0.55,"e":0.15},{"t":28,"v":0.4,"e":0.1},{"t":29,"v":0.3,"e":0.1},{"t":30,"v":0.36,"e":0.1},{"t":31,"v":0.4,"e":0.1},{"t":32,"v":0.3,"e":0.1},{"t":33,"v":0.37,"e":0.1},{"t":34,"v":0.35,"e":0.1},{"t":35,"v":0.4,"e":0.1},{"t":36,"v":0.33,"e":0.1},{"t":37,"v":0.43,"e":0.1},{"t":38,"v":0.37,"e":0.1},{"t":39,"v":0.38,"e":0.1},{"t":40,"v":0.33,"e":0.1},{"t":41,"v":0.41,"e":0.1},{"t":42,"v":0.41,"e":0.1},{"t":43,"v":0.36,"e":0.1},{"t":44,"v":0.44,"e":0.1},{"t":45,"v":0.33,"e":0.1},{"t":46,"v":0.4,"e":0.1},{"t":47,"v":0.43,"e":0.1},{"t":48,"v":0.38,"e":0.1},{"t":49,"v":0.44,"e":0.1},{"t":50,"v":0.36,"e":0.1},{"t":51,"v":0.42,"e":0.1},{"t":52,"v":0.48,"e":0.1},{"t":53,"v":0.4,"e":0.1},{"t":53.5,"v":0.66,"e":0.2},{"t":54,"v":0.39,"e":0.1},{"t":55,"v":0.45,"e":0.1},{"t":56,"v":0.64,"e":0.18},{"t":57,"v":0.49,"e":0.1},{"t":58,"v":0.44,"e":0.1},{"t":59,"v":0.42,"e":0.1},{"t":60,"v":0.48,"e":0.1},{"t":61,"v":0.45,"e":0.1},{"t":62,"v":0.53,"e":0.1},{"t":63,"v":0.43,"e":0.1},{"t":64,"v":0.49,"e":0.1},{"t":65,"v":0.51,"e":0.1},{"t":66,"v":0.41,"e":0.1},{"t":67,"v":0.62,"e":0.15},{"t":68,"v":0.5,"e":0.1},{"t":69,"v":0.5,"e":0.1},{"t":70,"v":0.45,"e":0.1},{"t":71,"v":0.54,"e":0.1},{"t":72,"v":0.47,"e":0.1},{"t":73,"v":0.49,"e":0.1},{"t":74,"v":0.42,"e":0.1},{"t":75,"v":0.52,"e":0.1},{"t":76,"v":0.48,"e":0.1},{"t":77,"v":0.45,"e":0.1},{"t":78,"v":0.53,"e":0.1},{"t":79,"v":0.43,"e":0.1},{"t":80,"v":0.49,"e":0.1},{"t":81,"v":0.52,"e":0.1},{"t":82,"v":0.46,"e":0.1},{"t":83,"v":0.43,"e":0.1},{"t":84,"v":0.55,"e":0.1},{"t":85,"v":0.5,"e":0.1},{"t":86,"v":0.49,"e":0.1},{"t":87,"v":0.52,"e":0.1},{"t":88,"v":0.45,"e":0.1},{"t":89,"v":0.54,"e":0.1},{"t":90,"v":0.55,"e":0.1}],
    "c57": [{"t":0,"v":1.12,"e":0.15},{"t":0.5,"v":0.65,"e":0.15},{"t":1,"v":1.05,"e":0.15},{"t":1.5,"v":0.88,"e":0.15},{"t":2,"v":1.15,"e":0.15},{"t":2.5,"v":0.95,"e":0.15},{"t":3,"v":1.33,"e":0.2},{"t":3.5,"v":1.0,"e":0.15},{"t":4,"v":0.85,"e":0.15},{"t":4.5,"v":1.08,"e":0.15},{"t":5,"v":0.8,"e":0.15},{"t":5.5,"v":1.2,"e":0.15},{"t":6,"v":1.0,"e":0.15},{"t":6.5,"v":0.92,"e":0.15},{"t":7,"v":1.25,"e":0.15},{"t":7.5,"v":0.95,"e":0.15},{"t":8,"v":1.1,"e":0.15},{"t":8.5,"v":0.88,"e":0.15},{"t":9,"v":1.0,"e":0.15},{"t":9.5,"v":0.92,"e":0.15},{"t":10,"v":1.05,"e":0.15},{"t":10.5,"v":0.98,"e":0.15},{"t":11,"v":0.75,"e":0.15},{"t":11.5,"v":0.95,"e":0.15},{"t":12,"v":1.25,"e":0.18},{"t":12.5,"v":0.9,"e":0.15},
      {"t":13,"v":0.59,"e":0.2},{"t":14,"v":0.76,"e":0.22},{"t":15,"v":0.66,"e":0.2},{"t":16,"v":0.72,"e":0.22},{"t":17,"v":0.62,"e":0.2},{"t":18,"v":0.77,"e":0.22},{"t":19,"v":0.57,"e":0.2},{"t":20,"v":0.65,"e":0.22},{"t":21,"v":0.72,"e":0.2},{"t":22,"v":0.54,"e":0.2},{"t":23,"v":0.67,"e":0.22},{"t":24,"v":0.62,"e":0.2},{"t":25,"v":0.35,"e":0.07},{"t":25.5,"v":0.71,"e":0.22},{"t":26,"v":0.6,"e":0.2},{"t":27,"v":0.38,"e":0.07},{"t":27.5,"v":0.76,"e":0.22},{"t":28,"v":0.67,"e":0.2},{"t":29,"v":0.69,"e":0.22},{"t":30,"v":0.61,"e":0.2},{"t":31,"v":0.76,"e":0.22},{"t":32,"v":1.0,"e":0.33},{"t":33,"v":0.66,"e":0.22},{"t":34,"v":0.81,"e":0.24},{"t":34.5,"v":0.62,"e":0.2},{"t":35,"v":0.61,"e":0.22},{"t":36,"v":0.74,"e":0.24},{"t":37,"v":0.8,"e":0.22},{"t":38,"v":0.7,"e":0.24},{"t":39,"v":0.82,"e":0.22},{"t":40,"v":0.67,"e":0.24},{"t":41,"v":0.78,"e":0.24},{"t":42,"v":0.87,"e":0.22},{"t":43,"v":0.73,"e":0.24},{"t":44,"v":0.7,"e":0.24},{"t":44.5,"v":0.95,"e":0.22},{"t":45,"v":0.8,"e":0.24},{"t":46,"v":0.66,"e":0.24},{"t":47,"v":0.86,"e":0.24},{"t":48,"v":0.77,"e":0.25},{"t":49,"v":0.73,"e":0.24},{"t":50,"v":0.83,"e":0.25},{"t":51,"v":0.77,"e":0.25},{"t":52,"v":0.89,"e":0.25},{"t":53,"v":0.71,"e":0.25},{"t":54,"v":0.47,"e":0.1},{"t":54.5,"v":0.55,"e":0.2},{"t":55,"v":1.08,"e":0.38},{"t":56,"v":0.45,"e":0.1},{"t":57,"v":0.76,"e":0.25},{"t":58,"v":0.84,"e":0.25},{"t":58.5,"v":0.5,"e":0.15},{"t":59,"v":0.84,"e":0.25},{"t":60,"v":0.74,"e":0.25},{"t":61,"v":0.91,"e":0.25},{"t":62,"v":0.78,"e":0.26},{"t":63,"v":0.82,"e":0.26},{"t":64,"v":0.69,"e":0.26},{"t":65,"v":0.89,"e":0.26},{"t":66,"v":0.81,"e":0.26},{"t":67,"v":0.76,"e":0.26},{"t":68,"v":0.91,"e":0.26},{"t":69,"v":0.73,"e":0.26},{"t":70,"v":0.85,"e":0.26},{"t":71,"v":0.89,"e":0.26},{"t":72,"v":0.79,"e":0.26},{"t":73,"v":0.72,"e":0.26},{"t":74,"v":0.95,"e":0.26},{"t":75,"v":0.84,"e":0.26},{"t":76,"v":0.82,"e":0.26},{"t":77,"v":0.89,"e":0.26},{"t":78,"v":0.76,"e":0.26},{"t":79,"v":0.92,"e":0.26},{"t":80,"v":0.81,"e":0.26},{"t":80.5,"v":0.55,"e":0.15},{"t":81,"v":0.78,"e":0.26},{"t":82,"v":0.95,"e":0.26},{"t":82.5,"v":0.58,"e":0.15},{"t":83,"v":0.85,"e":0.26},{"t":84,"v":0.73,"e":0.26},{"t":85,"v":0.89,"e":0.26},{"t":86,"v":0.92,"e":0.26},{"t":87,"v":0.8,"e":0.26},{"t":88,"v":0.88,"e":0.26},{"t":89,"v":0.77,"e":0.26},{"t":90,"v":0.93,"e":0.26}],
    "c58": [{"t":0,"v":1.05,"e":0.18},{"t":0.5,"v":1.15,"e":0.18},{"t":1,"v":0.95,"e":0.18},{"t":1.5,"v":1.1,"e":0.18},{"t":2,"v":0.9,"e":0.18},{"t":2.5,"v":1.0,"e":0.18},{"t":3,"v":1.12,"e":0.18},{"t":3.5,"v":0.88,"e":0.18},{"t":4,"v":1.05,"e":0.18},{"t":4.5,"v":0.98,"e":0.18},{"t":5,"v":1.08,"e":0.18},{"t":5.5,"v":1.0,"e":0.18},{"t":6,"v":0.92,"e":0.18},{"t":6.5,"v":1.02,"e":0.18},{"t":7,"v":1.08,"e":0.18},{"t":7.5,"v":0.95,"e":0.18},{"t":8,"v":1.0,"e":0.18},{"t":8.5,"v":1.05,"e":0.18},{"t":9,"v":0.72,"e":0.1},{"t":9.5,"v":0.98,"e":0.18},{"t":10,"v":1.02,"e":0.18},{"t":10.5,"v":0.9,"e":0.18},{"t":11,"v":1.0,"e":0.18},{"t":11.5,"v":0.95,"e":0.18},{"t":12,"v":0.98,"e":0.18},{"t":12.5,"v":0.85,"e":0.18},
      {"t":13,"v":0.68,"e":0.22},{"t":14,"v":0.6,"e":0.22},{"t":15,"v":0.67,"e":0.22},{"t":16,"v":0.52,"e":0.22},{"t":17,"v":0.7,"e":0.22},{"t":18,"v":0.33,"e":0.09},{"t":18.5,"v":0.45,"e":0.15},{"t":19,"v":0.58,"e":0.22},{"t":20,"v":0.47,"e":0.22},{"t":21,"v":0.63,"e":0.22},{"t":22,"v":0.62,"e":0.22},{"t":23,"v":0.52,"e":0.22},{"t":24,"v":0.68,"e":0.22},{"t":25,"v":0.45,"e":0.2},{"t":26,"v":0.6,"e":0.22},{"t":27,"v":0.66,"e":0.22},{"t":28,"v":0.55,"e":0.22},{"t":29,"v":0.68,"e":0.22},{"t":30,"v":0.52,"e":0.22},{"t":31,"v":0.64,"e":0.22},{"t":32,"v":0.75,"e":0.24},{"t":33,"v":0.6,"e":0.24},{"t":34,"v":0.57,"e":0.24},{"t":35,"v":0.69,"e":0.24},{"t":36,"v":0.54,"e":0.24},{"t":37,"v":0.76,"e":0.26},{"t":38,"v":0.67,"e":0.26},{"t":39,"v":0.62,"e":0.26},{"t":40,"v":0.74,"e":0.26},{"t":41,"v":0.67,"e":0.28},{"t":42,"v":0.81,"e":0.28},{"t":43,"v":0.38,"e":0.15},{"t":43.5,"v":0.42,"e":0.15},{"t":44,"v":0.74,"e":0.28},{"t":45,"v":0.79,"e":0.28},{"t":46,"v":0.59,"e":0.28},{"t":47,"v":0.73,"e":0.28},{"t":47.5,"v":0.95,"e":0.28},{"t":48,"v":0.8,"e":0.28},{"t":49,"v":0.68,"e":0.28},{"t":50,"v":0.76,"e":0.28},{"t":51,"v":0.76,"e":0.28},{"t":52,"v":0.65,"e":0.28},{"t":53,"v":0.83,"e":0.28},{"t":54,"v":0.69,"e":0.28},{"t":55,"v":0.73,"e":0.28},{"t":56,"v":0.6,"e":0.28},{"t":57,"v":0.81,"e":0.28},{"t":58,"v":0.38,"e":0.1},{"t":59,"v":0.68,"e":0.28},{"t":60,"v":0.84,"e":0.28},{"t":61,"v":0.64,"e":0.28},{"t":62,"v":0.77,"e":0.28},{"t":63,"v":0.47,"e":0.1},{"t":64,"v":0.64,"e":0.28},{"t":65,"v":0.88,"e":0.3},{"t":65.5,"v":0.5,"e":0.2},{"t":66,"v":0.77,"e":0.3},{"t":67,"v":0.75,"e":0.3},{"t":68,"v":0.82,"e":0.3},{"t":69,"v":0.69,"e":0.3},{"t":70,"v":0.86,"e":0.3},{"t":71,"v":0.76,"e":0.3},{"t":72,"v":0.73,"e":0.3},{"t":73,"v":0.92,"e":0.32},{"t":74,"v":0.81,"e":0.32},{"t":75,"v":0.69,"e":0.32},{"t":76,"v":0.4,"e":0.09},{"t":77,"v":0.9,"e":0.32},{"t":78,"v":0.78,"e":0.32},{"t":79,"v":0.87,"e":0.32},{"t":80,"v":0.75,"e":0.32},{"t":81,"v":0.95,"e":0.32},{"t":82,"v":0.85,"e":0.32},{"t":83,"v":0.92,"e":0.34},{"t":84,"v":0.83,"e":0.34},{"t":85,"v":1.01,"e":0.34},{"t":85.5,"v":1.12,"e":0.3},{"t":86,"v":0.8,"e":0.34},{"t":87,"v":0.9,"e":0.34},{"t":88,"v":0.98,"e":0.34},{"t":88.5,"v":0.65,"e":0.3},{"t":89,"v":0.78,"e":0.34},{"t":90,"v":0.95,"e":0.34}],
    "c59": [{"t":0,"v":1.05,"e":0.12},{"t":0.5,"v":0.95,"e":0.12},{"t":1,"v":1.1,"e":0.12},{"t":1.5,"v":0.85,"e":0.12},{"t":2,"v":1.02,"e":0.12},{"t":2.5,"v":0.98,"e":0.12},{"t":3,"v":1.18,"e":0.12},{"t":3.5,"v":1.05,"e":0.12},{"t":4,"v":0.9,"e":0.12},{"t":4.5,"v":1.0,"e":0.12},{"t":5,"v":1.1,"e":0.12},{"t":5.5,"v":0.92,"e":0.12},{"t":6,"v":1.05,"e":0.12},{"t":6.5,"v":0.95,"e":0.12},{"t":7,"v":1.08,"e":0.12},{"t":7.5,"v":0.88,"e":0.12},{"t":8,"v":1.0,"e":0.12},{"t":8.5,"v":1.05,"e":0.12},{"t":9,"v":0.95,"e":0.12},{"t":9.5,"v":0.9,"e":0.12},{"t":10,"v":1.02,"e":0.12},{"t":10.5,"v":0.85,"e":0.12},{"t":11,"v":0.98,"e":0.12},{"t":11.5,"v":1.05,"e":0.12},{"t":12,"v":1.2,"e":0.08},{"t":12.5,"v":0.95,"e":0.12},
      {"t":13,"v":0.39,"e":0.15},{"t":14,"v":0.45,"e":0.15},{"t":15,"v":0.3,"e":0.15},{"t":16,"v":0.39,"e":0.15},{"t":16.5,"v":0.28,"e":0.1},{"t":17,"v":0.44,"e":0.16},{"t":18,"v":0.39,"e":0.16},{"t":19,"v":0.48,"e":0.17},{"t":20,"v":0.4,"e":0.17},{"t":21,"v":0.48,"e":0.18},{"t":22,"v":0.54,"e":0.18},{"t":23,"v":0.46,"e":0.18},{"t":24,"v":0.45,"e":0.18},{"t":25,"v":0.52,"e":0.19},{"t":26,"v":0.44,"e":0.19},{"t":27,"v":0.57,"e":0.19},{"t":28,"v":0.52,"e":0.19},{"t":29,"v":0.49,"e":0.19},{"t":30,"v":0.56,"e":0.2},{"t":31,"v":0.53,"e":0.2},{"t":32,"v":0.61,"e":0.2},{"t":33,"v":0.5,"e":0.2},{"t":34,"v":0.57,"e":0.2},{"t":35,"v":0.6,"e":0.2},{"t":36,"v":0.49,"e":0.2},{"t":37,"v":0.58,"e":0.2},{"t":38,"v":0.63,"e":0.2},{"t":39,"v":0.56,"e":0.2},{"t":40,"v":0.61,"e":0.2},{"t":41,"v":0.62,"e":0.2},{"t":42,"v":0.56,"e":0.2},{"t":43,"v":0.66,"e":0.2},{"t":44,"v":0.59,"e":0.2},{"t":44.5,"v":0.75,"e":0.2},{"t":45,"v":0.61,"e":0.2},{"t":46,"v":0.54,"e":0.2},{"t":47,"v":0.66,"e":0.2},{"t":47.5,"v":0.78,"e":0.2},{"t":48,"v":0.61,"e":0.2},{"t":49,"v":0.59,"e":0.2},{"t":50,"v":0.68,"e":0.2},{"t":51,"v":0.57,"e":0.2},{"t":52,"v":0.64,"e":0.2},{"t":53,"v":0.67,"e":0.2},{"t":54,"v":0.61,"e":0.2},{"t":55,"v":0.57,"e":0.2},{"t":56,"v":0.71,"e":0.2},{"t":57,"v":0.65,"e":0.2},{"t":58,"v":0.64,"e":0.2},{"t":59,"v":0.68,"e":0.2},{"t":60,"v":0.6,"e":0.2},{"t":61,"v":0.7,"e":0.2},{"t":62,"v":0.64,"e":0.2},{"t":63,"v":0.61,"e":0.2},{"t":64,"v":0.72,"e":0.2},{"t":65,"v":0.66,"e":0.2},{"t":66,"v":0.58,"e":0.2},{"t":67,"v":0.68,"e":0.2},{"t":68,"v":0.7,"e":0.2},{"t":69,"v":0.63,"e":0.2},{"t":70,"v":0.6,"e":0.2},{"t":71,"v":0.72,"e":0.2},{"t":72,"v":0.42,"e":0.04},{"t":73,"v":0.65,"e":0.2},{"t":74,"v":0.7,"e":0.2},{"t":75,"v":0.61,"e":0.2},{"t":76,"v":0.73,"e":0.2},{"t":77,"v":0.67,"e":0.2},{"t":78,"v":0.68,"e":0.2},{"t":79,"v":0.61,"e":0.2},{"t":80,"v":0.73,"e":0.2},{"t":81,"v":0.62,"e":0.2},{"t":82,"v":0.7,"e":0.2},{"t":83,"v":0.68,"e":0.2},{"t":84,"v":0.74,"e":0.2},{"t":85,"v":0.66,"e":0.2},{"t":86,"v":0.77,"e":0.2},{"t":87,"v":0.7,"e":0.2},{"t":88,"v":0.71,"e":0.2},{"t":89,"v":0.66,"e":0.2},{"t":90,"v":0.75,"e":0.2}]
  },
  "concat": [
    {"data": {"name": "c1"}, "layer": [
      {"mark": {"type": "errorbar", "ticks": {"size": 15, "thickness": 2.6, "color": "#9e9e9e"}, "rule": {"size": 3, "color": "#9e9e9e"}}, "encoding": {"x": {"field": "t", "type": "quantitative", "scale": {"domain": [-3.2, 90.2], "nice": false}, "axis": {"title": null}}, "y": {"field": "v", "type": "quantitative", "scale": {"domain": [-0.05, 1.54], "nice": false}, "axis": {"title": null, "labelExpr": "datum.value ? format(datum.value, '.1f') : '0'"}}, "yError": {"field": "e"}}},
      {"mark": "circle", "encoding": {"x": {"field": "t", "type": "quantitative", "title": null}, "y": {"field": "v", "type": "quantitative", "title": null}}},
      {"data": {"values": [{"ch": "Ch 1", "xy": "(-1, 3)"}]}, "layer": [
        {"mark": "text", "encoding": {"x": {"datum": 34.3}, "y": {"datum": 1.39}, "text": {"field": "ch"}}},
        {"mark": "text", "encoding": {"x": {"datum": 70.8}, "y": {"datum": 1.39}, "text": {"field": "xy"}}},
        {"mark": {"type": "point", "shape": "M-0.66,-1L0.66,-1L0,1Z", "size": 1681, "filled": true, "color": "#000", "opacity": 1}, "encoding": {"x": {"datum": 13.9}, "y": {"datum": 1.31}}}
      ]}
    ]},
    {"data": {"name": "c2"}, "layer": [
      {"mark": {"type": "errorbar", "ticks": {"size": 15, "thickness": 2.6, "color": "#9e9e9e"}, "rule": {"size": 3, "color": "#9e9e9e"}}, "encoding": {"x": {"field": "t", "type": "quantitative", "scale": {"domain": [-3.2, 90.2], "nice": false}, "axis": {"title": null}}, "y": {"field": "v", "type": "quantitative", "scale": {"domain": [-0.05, 1.54], "nice": false}, "axis": {"title": null, "labelExpr": "datum.value ? format(datum.value, '.1f') : '0'"}}, "yError": {"field": "e"}}},
      {"mark": "circle", "encoding": {"x": {"field": "t", "type": "quantitative", "title": null}, "y": {"field": "v", "type": "quantitative", "title": null}}},
      {"data": {"values": [{"ch": "Ch 2", "xy": "(0, 3)"}]}, "layer": [
        {"mark": "text", "encoding": {"x": {"datum": 30.9}, "y": {"datum": 1.39}, "text": {"field": "ch"}}},
        {"mark": "text", "encoding": {"x": {"datum": 69.1}, "y": {"datum": 1.39}, "text": {"field": "xy"}}},
        {"mark": {"type": "point", "shape": "M-0.66,-1L0.66,-1L0,1Z", "size": 1681, "filled": true, "color": "#000", "opacity": 1}, "encoding": {"x": {"datum": 13.7}, "y": {"datum": 1.31}}}
      ]}
    ]},
    {"data": {"name": "c3"}, "layer": [
      {"mark": {"type": "errorbar", "ticks": {"size": 15, "thickness": 2.6, "color": "#9e9e9e"}, "rule": {"size": 3, "color": "#9e9e9e"}}, "encoding": {"x": {"field": "t", "type": "quantitative", "scale": {"domain": [-3.2, 90.2], "nice": false}, "axis": {"title": null}}, "y": {"field": "v", "type": "quantitative", "scale": {"domain": [-0.05, 1.54], "nice": false}, "axis": {"title": null, "labelExpr": "datum.value ? format(datum.value, '.1f') : '0'"}}, "yError": {"field": "e"}}},
      {"mark": "circle", "encoding": {"x": {"field": "t", "type": "quantitative", "title": null}, "y": {"field": "v", "type": "quantitative", "title": null}}},
      {"data": {"values": [{"ch": "Ch 3", "xy": "(1, 3)"}]}, "layer": [
        {"mark": "text", "encoding": {"x": {"datum": 27.6}, "y": {"datum": 1.39}, "text": {"field": "ch"}}},
        {"mark": "text", "encoding": {"x": {"datum": 65}, "y": {"datum": 1.39}, "text": {"field": "xy"}}},
        {"mark": {"type": "point", "shape": "M-0.66,-1L0.66,-1L0,1Z", "size": 1681, "filled": true, "color": "#000", "opacity": 1}, "encoding": {"x": {"datum": 13.2}, "y": {"datum": 1.31}}}
      ]}
    ]},
    {"data": {"name": "c9"}, "layer": [
      {"mark": {"type": "errorbar", "ticks": {"size": 15, "thickness": 2.6, "color": "#9e9e9e"}, "rule": {"size": 3, "color": "#9e9e9e"}}, "encoding": {"x": {"field": "t", "type": "quantitative", "scale": {"domain": [-3.2, 90.2], "nice": false}, "axis": {"title": null}}, "y": {"field": "v", "type": "quantitative", "scale": {"domain": [-0.05, 1.54], "nice": false}, "axis": {"title": null, "labelExpr": "datum.value ? format(datum.value, '.1f') : '0'"}}, "yError": {"field": "e"}}},
      {"mark": "circle", "encoding": {"x": {"field": "t", "type": "quantitative", "title": null}, "y": {"field": "v", "type": "quantitative", "title": null}}},
      {"data": {"values": [{"ch": "Ch 9", "xy": "(-1, 2)"}]}, "layer": [
        {"mark": "text", "encoding": {"x": {"datum": 34.3}, "y": {"datum": 1.305}, "text": {"field": "ch"}}},
        {"mark": "text", "encoding": {"x": {"datum": 70.8}, "y": {"datum": 1.305}, "text": {"field": "xy"}}}
      ]}
    ]},
    {"data": {"name": "c10"}, "layer": [
      {"mark": {"type": "errorbar", "ticks": {"size": 15, "thickness": 2.6, "color": "#9e9e9e"}, "rule": {"size": 3, "color": "#9e9e9e"}}, "encoding": {"x": {"field": "t", "type": "quantitative", "scale": {"domain": [-3.2, 90.2], "nice": false}, "axis": {"title": null}}, "y": {"field": "v", "type": "quantitative", "scale": {"domain": [-0.05, 1.54], "nice": false}, "axis": {"title": null, "labelExpr": "datum.value ? format(datum.value, '.1f') : '0'"}}, "yError": {"field": "e"}}},
      {"mark": "circle", "encoding": {"x": {"field": "t", "type": "quantitative", "title": null}, "y": {"field": "v", "type": "quantitative", "title": null}}},
      {"data": {"values": [{"ch": "Ch 10", "xy": "(0, 2)"}]}, "layer": [
        {"mark": "text", "encoding": {"x": {"datum": 30.9}, "y": {"datum": 1.305}, "text": {"field": "ch"}}},
        {"mark": "text", "encoding": {"x": {"datum": 69.1}, "y": {"datum": 1.305}, "text": {"field": "xy"}}}
      ]}
    ]},
    {"data": {"name": "c11"}, "layer": [
      {"mark": {"type": "errorbar", "ticks": {"size": 15, "thickness": 2.6, "color": "#9e9e9e"}, "rule": {"size": 3, "color": "#9e9e9e"}}, "encoding": {"x": {"field": "t", "type": "quantitative", "scale": {"domain": [-3.2, 90.2], "nice": false}, "axis": {"title": null}}, "y": {"field": "v", "type": "quantitative", "scale": {"domain": [-0.05, 1.54], "nice": false}, "axis": {"title": null, "labelExpr": "datum.value ? format(datum.value, '.1f') : '0'"}}, "yError": {"field": "e"}}},
      {"mark": "circle", "encoding": {"x": {"field": "t", "type": "quantitative", "title": null}, "y": {"field": "v", "type": "quantitative", "title": null}}},
      {"data": {"values": [{"ch": "Ch 11", "xy": "(1, 2)"}]}, "layer": [
        {"mark": "text", "encoding": {"x": {"datum": 27.6}, "y": {"datum": 1.305}, "text": {"field": "ch"}}},
        {"mark": "text", "encoding": {"x": {"datum": 65}, "y": {"datum": 1.305}, "text": {"field": "xy"}}}
      ]}
    ]},
    {"data": {"name": "c17"}, "layer": [
      {"mark": {"type": "errorbar", "ticks": {"size": 15, "thickness": 2.6, "color": "#9e9e9e"}, "rule": {"size": 3, "color": "#9e9e9e"}}, "encoding": {"x": {"field": "t", "type": "quantitative", "scale": {"domain": [-3.2, 90.2], "nice": false}, "axis": {"title": null}}, "y": {"field": "v", "type": "quantitative", "scale": {"domain": [-0.05, 1.54], "nice": false}, "axis": {"title": null, "labelExpr": "datum.value ? format(datum.value, '.1f') : '0'"}}, "yError": {"field": "e"}}},
      {"mark": "circle", "encoding": {"x": {"field": "t", "type": "quantitative", "title": null}, "y": {"field": "v", "type": "quantitative", "title": null}}},
      {"data": {"values": [{"ch": "Ch 17", "xy": "(-1, 1)"}]}, "layer": [
        {"mark": "text", "encoding": {"x": {"datum": 34.3}, "y": {"datum": 1.169}, "text": {"field": "ch"}}},
        {"mark": "text", "encoding": {"x": {"datum": 70.8}, "y": {"datum": 1.169}, "text": {"field": "xy"}}}
      ]}
    ]},
    {"data": {"name": "c18"}, "layer": [
      {"mark": {"type": "errorbar", "ticks": {"size": 15, "thickness": 2.6, "color": "#9e9e9e"}, "rule": {"size": 3, "color": "#9e9e9e"}}, "encoding": {"x": {"field": "t", "type": "quantitative", "scale": {"domain": [-3.2, 90.2], "nice": false}, "axis": {"title": null}}, "y": {"field": "v", "type": "quantitative", "scale": {"domain": [-0.05, 1.54], "nice": false}, "axis": {"title": null, "labelExpr": "datum.value ? format(datum.value, '.1f') : '0'"}}, "yError": {"field": "e"}}},
      {"mark": "circle", "encoding": {"x": {"field": "t", "type": "quantitative", "title": null}, "y": {"field": "v", "type": "quantitative", "title": null}}},
      {"data": {"values": [{"ch": "Ch 18", "xy": "(0, 1)"}]}, "layer": [
        {"mark": "text", "encoding": {"x": {"datum": 30.9}, "y": {"datum": 1.169}, "text": {"field": "ch"}}},
        {"mark": "text", "encoding": {"x": {"datum": 69.1}, "y": {"datum": 1.169}, "text": {"field": "xy"}}}
      ]}
    ]},
    {"data": {"name": "c19"}, "layer": [
      {"mark": {"type": "errorbar", "ticks": {"size": 15, "thickness": 2.6, "color": "#9e9e9e"}, "rule": {"size": 3, "color": "#9e9e9e"}}, "encoding": {"x": {"field": "t", "type": "quantitative", "scale": {"domain": [-3.2, 90.2], "nice": false}, "axis": {"title": null}}, "y": {"field": "v", "type": "quantitative", "scale": {"domain": [-0.05, 1.54], "nice": false}, "axis": {"title": null, "labelExpr": "datum.value ? format(datum.value, '.1f') : '0'"}}, "yError": {"field": "e"}}},
      {"mark": "circle", "encoding": {"x": {"field": "t", "type": "quantitative", "title": null}, "y": {"field": "v", "type": "quantitative", "title": null}}},
      {"data": {"values": [{"ch": "Ch 19", "xy": "(1, 1)"}]}, "layer": [
        {"mark": "text", "encoding": {"x": {"datum": 27.6}, "y": {"datum": 1.169}, "text": {"field": "ch"}}},
        {"mark": "text", "encoding": {"x": {"datum": 65}, "y": {"datum": 1.169}, "text": {"field": "xy"}}}
      ]}
    ]},
    {"data": {"name": "c25"}, "layer": [
      {"mark": {"type": "errorbar", "ticks": {"size": 15, "thickness": 2.6, "color": "#9e9e9e"}, "rule": {"size": 3, "color": "#9e9e9e"}}, "encoding": {"x": {"field": "t", "type": "quantitative", "scale": {"domain": [-3.2, 90.2], "nice": false}, "axis": {"title": null}}, "y": {"field": "v", "type": "quantitative", "scale": {"domain": [-0.05, 1.54], "nice": false}, "axis": {"title": null, "labelExpr": "datum.value ? format(datum.value, '.1f') : '0'"}}, "yError": {"field": "e"}}},
      {"mark": "circle", "encoding": {"x": {"field": "t", "type": "quantitative", "title": null}, "y": {"field": "v", "type": "quantitative", "title": null}}},
      {"data": {"values": [{"ch": "Ch 25", "xy": "(-1, 0)"}]}, "layer": [
        {"mark": "text", "encoding": {"x": {"datum": 34.3}, "y": {"datum": 1.203}, "text": {"field": "ch"}}},
        {"mark": "text", "encoding": {"x": {"datum": 70.8}, "y": {"datum": 1.203}, "text": {"field": "xy"}}}
      ]}
    ]},
    {"data": {"values": [{"ch": "Ch 26", "xy": "(0, 0)", "n1": "Test stim. site 1 &", "n2": "tetanic stimulation"}]}, "layer": [
      {"mark": "text", "encoding": {"x": {"datum": 30.9, "scale": {"domain": [-3.2, 90.2], "nice": false}, "axis": null}, "y": {"datum": 1.203, "scale": {"domain": [-0.05, 1.54], "nice": false}, "axis": null}, "text": {"field": "ch"}}},
      {"mark": "text", "encoding": {"x": {"datum": 69.1}, "y": {"datum": 1.203}, "text": {"field": "xy"}}},
      {"mark": {"type": "text", "align": "center"}, "encoding": {"x": {"datum": 43.6}, "y": {"datum": 0.676}, "text": {"field": "n1"}}},
      {"mark": {"type": "text", "align": "center"}, "encoding": {"x": {"datum": 43.6}, "y": {"datum": 0.2}, "text": {"field": "n2"}}}
    ]},
    {"data": {"name": "c27"}, "layer": [
      {"mark": {"type": "errorbar", "ticks": {"size": 15, "thickness": 2.6, "color": "#9e9e9e"}, "rule": {"size": 3, "color": "#9e9e9e"}}, "encoding": {"x": {"field": "t", "type": "quantitative", "scale": {"domain": [-3.2, 90.2], "nice": false}, "axis": {"title": null}}, "y": {"field": "v", "type": "quantitative", "scale": {"domain": [-0.05, 1.54], "nice": false}, "axis": {"title": null, "labelExpr": "datum.value ? format(datum.value, '.1f') : '0'"}}, "yError": {"field": "e"}}},
      {"mark": "circle", "encoding": {"x": {"field": "t", "type": "quantitative", "title": null}, "y": {"field": "v", "type": "quantitative", "title": null}}},
      {"data": {"values": [{"ch": "Ch 27", "xy": "(1, 0)"}]}, "layer": [
        {"mark": "text", "encoding": {"x": {"datum": 27.6}, "y": {"datum": 1.203}, "text": {"field": "ch"}}},
        {"mark": "text", "encoding": {"x": {"datum": 65}, "y": {"datum": 1.203}, "text": {"field": "xy"}}}
      ]}
    ]},
    {"data": {"name": "c33"}, "layer": [
      {"mark": {"type": "errorbar", "ticks": {"size": 15, "thickness": 2.6, "color": "#9e9e9e"}, "rule": {"size": 3, "color": "#9e9e9e"}}, "encoding": {"x": {"field": "t", "type": "quantitative", "scale": {"domain": [-3.2, 90.2], "nice": false}, "axis": {"title": null}}, "y": {"field": "v", "type": "quantitative", "scale": {"domain": [-0.05, 1.54], "nice": false}, "axis": {"title": null, "labelExpr": "datum.value ? format(datum.value, '.1f') : '0'"}}, "yError": {"field": "e"}}},
      {"mark": "circle", "encoding": {"x": {"field": "t", "type": "quantitative", "title": null}, "y": {"field": "v", "type": "quantitative", "title": null}}},
      {"data": {"values": [{"ch": "Ch 33", "xy": "(-1, -1)"}]}, "layer": [
        {"mark": "text", "encoding": {"x": {"datum": 34.3}, "y": {"datum": 1.33}, "text": {"field": "ch"}}},
        {"mark": "text", "encoding": {"x": {"datum": 70.8}, "y": {"datum": 1.33}, "text": {"field": "xy"}}}
      ]}
    ]},
    {"data": {"name": "c34"}, "layer": [
      {"mark": {"type": "errorbar", "ticks": {"size": 15, "thickness": 2.6, "color": "#9e9e9e"}, "rule": {"size": 3, "color": "#9e9e9e"}}, "encoding": {"x": {"field": "t", "type": "quantitative", "scale": {"domain": [-3.2, 90.2], "nice": false}, "axis": {"title": null}}, "y": {"field": "v", "type": "quantitative", "scale": {"domain": [-0.05, 1.54], "nice": false}, "axis": {"title": null, "labelExpr": "datum.value ? format(datum.value, '.1f') : '0'"}}, "yError": {"field": "e"}}},
      {"mark": "circle", "encoding": {"x": {"field": "t", "type": "quantitative", "title": null}, "y": {"field": "v", "type": "quantitative", "title": null}}},
      {"data": {"values": [{"ch": "Ch 34", "xy": "(0, -1)"}]}, "layer": [
        {"mark": "text", "encoding": {"x": {"datum": 30.9}, "y": {"datum": 1.33}, "text": {"field": "ch"}}},
        {"mark": "text", "encoding": {"x": {"datum": 69.1}, "y": {"datum": 1.33}, "text": {"field": "xy"}}}
      ]}
    ]},
    {"data": {"name": "c35"}, "layer": [
      {"mark": {"type": "errorbar", "ticks": {"size": 15, "thickness": 2.6, "color": "#9e9e9e"}, "rule": {"size": 3, "color": "#9e9e9e"}}, "encoding": {"x": {"field": "t", "type": "quantitative", "scale": {"domain": [-3.2, 90.2], "nice": false}, "axis": {"title": null}}, "y": {"field": "v", "type": "quantitative", "scale": {"domain": [-0.05, 1.54], "nice": false}, "axis": {"title": null, "labelExpr": "datum.value ? format(datum.value, '.1f') : '0'"}}, "yError": {"field": "e"}}},
      {"mark": "circle", "encoding": {"x": {"field": "t", "type": "quantitative", "title": null}, "y": {"field": "v", "type": "quantitative", "title": null}}},
      {"data": {"values": [{"ch": "Ch 35", "xy": "(1, -1)"}]}, "layer": [
        {"mark": "text", "encoding": {"x": {"datum": 27.6}, "y": {"datum": 1.33}, "text": {"field": "ch"}}},
        {"mark": "text", "encoding": {"x": {"datum": 65}, "y": {"datum": 1.33}, "text": {"field": "xy"}}}
      ]}
    ]},
    {"data": {"name": "c41"}, "layer": [
      {"mark": {"type": "errorbar", "ticks": {"size": 15, "thickness": 2.6, "color": "#9e9e9e"}, "rule": {"size": 3, "color": "#9e9e9e"}}, "encoding": {"x": {"field": "t", "type": "quantitative", "scale": {"domain": [-3.2, 90.2], "nice": false}, "axis": {"title": null}}, "y": {"field": "v", "type": "quantitative", "scale": {"domain": [-0.05, 1.54], "nice": false}, "axis": {"title": null, "labelExpr": "datum.value ? format(datum.value, '.1f') : '0'"}}, "yError": {"field": "e"}}},
      {"mark": "circle", "encoding": {"x": {"field": "t", "type": "quantitative", "title": null}, "y": {"field": "v", "type": "quantitative", "title": null}}},
      {"data": {"values": [{"ch": "Ch 41", "xy": "(-1, -2)"}]}, "layer": [
        {"mark": "text", "encoding": {"x": {"datum": 34.3}, "y": {"datum": 1.398}, "text": {"field": "ch"}}},
        {"mark": "text", "encoding": {"x": {"datum": 70.8}, "y": {"datum": 1.398}, "text": {"field": "xy"}}}
      ]}
    ]},
    {"data": {"name": "c42"}, "layer": [
      {"mark": {"type": "errorbar", "ticks": {"size": 15, "thickness": 2.6, "color": "#9e9e9e"}, "rule": {"size": 3, "color": "#9e9e9e"}}, "encoding": {"x": {"field": "t", "type": "quantitative", "scale": {"domain": [-3.2, 90.2], "nice": false}, "axis": {"title": null}}, "y": {"field": "v", "type": "quantitative", "scale": {"domain": [-0.05, 1.54], "nice": false}, "axis": {"title": null, "labelExpr": "datum.value ? format(datum.value, '.1f') : '0'"}}, "yError": {"field": "e"}}},
      {"mark": "circle", "encoding": {"x": {"field": "t", "type": "quantitative", "title": null}, "y": {"field": "v", "type": "quantitative", "title": null}}},
      {"data": {"values": [{"ch": "Ch 42", "xy": "(0, -2)"}]}, "layer": [
        {"mark": "text", "encoding": {"x": {"datum": 30.9}, "y": {"datum": 1.398}, "text": {"field": "ch"}}},
        {"mark": "text", "encoding": {"x": {"datum": 69.1}, "y": {"datum": 1.398}, "text": {"field": "xy"}}}
      ]}
    ]},
    {"data": {"name": "c43"}, "layer": [
      {"mark": {"type": "errorbar", "ticks": {"size": 15, "thickness": 2.6, "color": "#9e9e9e"}, "rule": {"size": 3, "color": "#9e9e9e"}}, "encoding": {"x": {"field": "t", "type": "quantitative", "scale": {"domain": [-3.2, 90.2], "nice": false}, "axis": {"title": null}}, "y": {"field": "v", "type": "quantitative", "scale": {"domain": [-0.05, 1.54], "nice": false}, "axis": {"title": null, "labelExpr": "datum.value ? format(datum.value, '.1f') : '0'"}}, "yError": {"field": "e"}}},
      {"mark": "circle", "encoding": {"x": {"field": "t", "type": "quantitative", "title": null}, "y": {"field": "v", "type": "quantitative", "title": null}}},
      {"data": {"values": [{"ch": "Ch 43", "xy": "(1, -2)"}]}, "layer": [
        {"mark": "text", "encoding": {"x": {"datum": 27.6}, "y": {"datum": 1.398}, "text": {"field": "ch"}}},
        {"mark": "text", "encoding": {"x": {"datum": 65}, "y": {"datum": 1.398}, "text": {"field": "xy"}}}
      ]}
    ]},
    {"data": {"name": "c49"}, "layer": [
      {"mark": {"type": "errorbar", "ticks": {"size": 15, "thickness": 2.6, "color": "#9e9e9e"}, "rule": {"size": 3, "color": "#9e9e9e"}}, "encoding": {"x": {"field": "t", "type": "quantitative", "scale": {"domain": [-3.2, 90.2], "nice": false}, "axis": {"title": null}}, "y": {"field": "v", "type": "quantitative", "scale": {"domain": [-0.05, 1.54], "nice": false}, "axis": {"title": null, "labelExpr": "datum.value ? format(datum.value, '.1f') : '0'"}}, "yError": {"field": "e"}}},
      {"mark": "circle", "encoding": {"x": {"field": "t", "type": "quantitative", "title": null}, "y": {"field": "v", "type": "quantitative", "title": null}}},
      {"data": {"values": [{"ch": "Ch 49", "xy": "(-1, -3)"}]}, "layer": [
        {"mark": "text", "encoding": {"x": {"datum": 34.3}, "y": {"datum": 1.424}, "text": {"field": "ch"}}},
        {"mark": "text", "encoding": {"x": {"datum": 70.8}, "y": {"datum": 1.424}, "text": {"field": "xy"}}}
      ]}
    ]},
    {"data": {"name": "c50"}, "layer": [
      {"mark": {"type": "errorbar", "ticks": {"size": 15, "thickness": 2.6, "color": "#9e9e9e"}, "rule": {"size": 3, "color": "#9e9e9e"}}, "encoding": {"x": {"field": "t", "type": "quantitative", "scale": {"domain": [-3.2, 90.2], "nice": false}, "axis": {"title": null}}, "y": {"field": "v", "type": "quantitative", "scale": {"domain": [-0.05, 1.54], "nice": false}, "axis": {"title": null, "labelExpr": "datum.value ? format(datum.value, '.1f') : '0'"}}, "yError": {"field": "e"}}},
      {"mark": "circle", "encoding": {"x": {"field": "t", "type": "quantitative", "title": null}, "y": {"field": "v", "type": "quantitative", "title": null}}},
      {"data": {"values": [{"ch": "Ch 50", "xy": "(0, -3)"}]}, "layer": [
        {"mark": "text", "encoding": {"x": {"datum": 30.9}, "y": {"datum": 1.424}, "text": {"field": "ch"}}},
        {"mark": "text", "encoding": {"x": {"datum": 69.1}, "y": {"datum": 1.424}, "text": {"field": "xy"}}}
      ]}
    ]},
    {"data": {"name": "c51"}, "layer": [
      {"mark": {"type": "errorbar", "ticks": {"size": 15, "thickness": 2.6, "color": "#9e9e9e"}, "rule": {"size": 3, "color": "#9e9e9e"}}, "encoding": {"x": {"field": "t", "type": "quantitative", "scale": {"domain": [-3.2, 90.2], "nice": false}, "axis": {"title": null}}, "y": {"field": "v", "type": "quantitative", "scale": {"domain": [-0.05, 1.54], "nice": false}, "axis": {"title": null, "labelExpr": "datum.value ? format(datum.value, '.1f') : '0'"}}, "yError": {"field": "e"}}},
      {"mark": "circle", "encoding": {"x": {"field": "t", "type": "quantitative", "title": null}, "y": {"field": "v", "type": "quantitative", "title": null}}},
      {"data": {"values": [{"ch": "Ch 51", "xy": "(1, -3)"}]}, "layer": [
        {"mark": "text", "encoding": {"x": {"datum": 27.6}, "y": {"datum": 1.424}, "text": {"field": "ch"}}},
        {"mark": "text", "encoding": {"x": {"datum": 65}, "y": {"datum": 1.424}, "text": {"field": "xy"}}}
      ]}
    ]},
    {"data": {"name": "c57"}, "layer": [
      {"mark": {"type": "errorbar", "ticks": {"size": 15, "thickness": 2.6, "color": "#9e9e9e"}, "rule": {"size": 3, "color": "#9e9e9e"}}, "encoding": {"x": {"field": "t", "type": "quantitative", "title": "Time (min)", "scale": {"domain": [-3.2, 90.2], "nice": false}, "axis": {"title": "Time (min)"}}, "y": {"field": "v", "type": "quantitative", "scale": {"domain": [-0.05, 1.54], "nice": false}, "axis": {"title": null, "labelExpr": "datum.value ? format(datum.value, '.1f') : '0'"}}, "yError": {"field": "e"}}},
      {"mark": "circle", "encoding": {"x": {"field": "t", "type": "quantitative", "title": "Time (min)"}, "y": {"field": "v", "type": "quantitative", "title": null}}},
      {"data": {"values": [{"ch": "Ch 57", "xy": "(-1, -4)"}]}, "layer": [
        {"mark": "text", "encoding": {"x": {"datum": 34.3}, "y": {"datum": 1.475}, "text": {"field": "ch"}}},
        {"mark": "text", "encoding": {"x": {"datum": 70.8}, "y": {"datum": 1.475}, "text": {"field": "xy"}}}
      ]}
    ]},
    {"data": {"name": "c58"}, "layer": [
      {"mark": {"type": "errorbar", "ticks": {"size": 15, "thickness": 2.6, "color": "#9e9e9e"}, "rule": {"size": 3, "color": "#9e9e9e"}}, "encoding": {"x": {"field": "t", "type": "quantitative", "title": "Time (min)", "scale": {"domain": [-3.2, 90.2], "nice": false}, "axis": {"title": "Time (min)"}}, "y": {"field": "v", "type": "quantitative", "scale": {"domain": [-0.05, 1.54], "nice": false}, "axis": {"title": null, "labelExpr": "datum.value ? format(datum.value, '.1f') : '0'"}}, "yError": {"field": "e"}}},
      {"mark": "circle", "encoding": {"x": {"field": "t", "type": "quantitative", "title": "Time (min)"}, "y": {"field": "v", "type": "quantitative", "title": null}}},
      {"data": {"values": [{"ch": "Ch 58", "xy": "(0, -4)"}]}, "layer": [
        {"mark": "text", "encoding": {"x": {"datum": 30.9}, "y": {"datum": 1.475}, "text": {"field": "ch"}}},
        {"mark": "text", "encoding": {"x": {"datum": 69.1}, "y": {"datum": 1.475}, "text": {"field": "xy"}}}
      ]}
    ]},
    {"data": {"name": "c59"}, "layer": [
      {"mark": {"type": "errorbar", "ticks": {"size": 15, "thickness": 2.6, "color": "#9e9e9e"}, "rule": {"size": 3, "color": "#9e9e9e"}}, "encoding": {"x": {"field": "t", "type": "quantitative", "title": "Time (min)", "scale": {"domain": [-3.2, 90.2], "nice": false}, "axis": {"title": "Time (min)"}}, "y": {"field": "v", "type": "quantitative", "scale": {"domain": [-0.05, 1.54], "nice": false}, "axis": {"title": null, "labelExpr": "datum.value ? format(datum.value, '.1f') : '0'"}}, "yError": {"field": "e"}}},
      {"mark": "circle", "encoding": {"x": {"field": "t", "type": "quantitative", "title": "Time (min)"}, "y": {"field": "v", "type": "quantitative", "title": null}}},
      {"data": {"values": [{"ch": "Ch 59", "xy": "(1, -4)"}]}, "layer": [
        {"mark": "text", "encoding": {"x": {"datum": 27.6}, "y": {"datum": 1.475}, "text": {"field": "ch"}}},
        {"mark": "text", "encoding": {"x": {"datum": 65}, "y": {"datum": 1.475}, "text": {"field": "xy"}}}
      ]}
    ]}
  ],
  "config": {
    "view": {"continuousWidth": 382, "continuousHeight": 187, "stroke": null},
    "axis": {"grid": false, "domainColor": "#000", "tickColor": "#000", "tickWidth": 2, "tickSize": 9, "labelColor": "#000", "labelFont": "Liberation Sans", "labelFontSize": 24, "labelFontWeight": "bold", "titleColor": "#000", "titleFont": "Liberation Sans", "titleFontSize": 43, "titleFontWeight": "normal"},
    "axisX": {"domainWidth": 3, "tickCount": 5, "labelFlush": false, "labelPadding": 5, "titlePadding": 6},
    "axisY": {"domainWidth": 2, "tickCount": 4, "labelPadding": 3},
    "circle": {"color": "#000", "size": 64, "opacity": 1},
    "text": {"font": "DejaVu Sans", "fontSize": 38, "align": "left", "baseline": "alphabetic", "color": "#000"}
  }
}
